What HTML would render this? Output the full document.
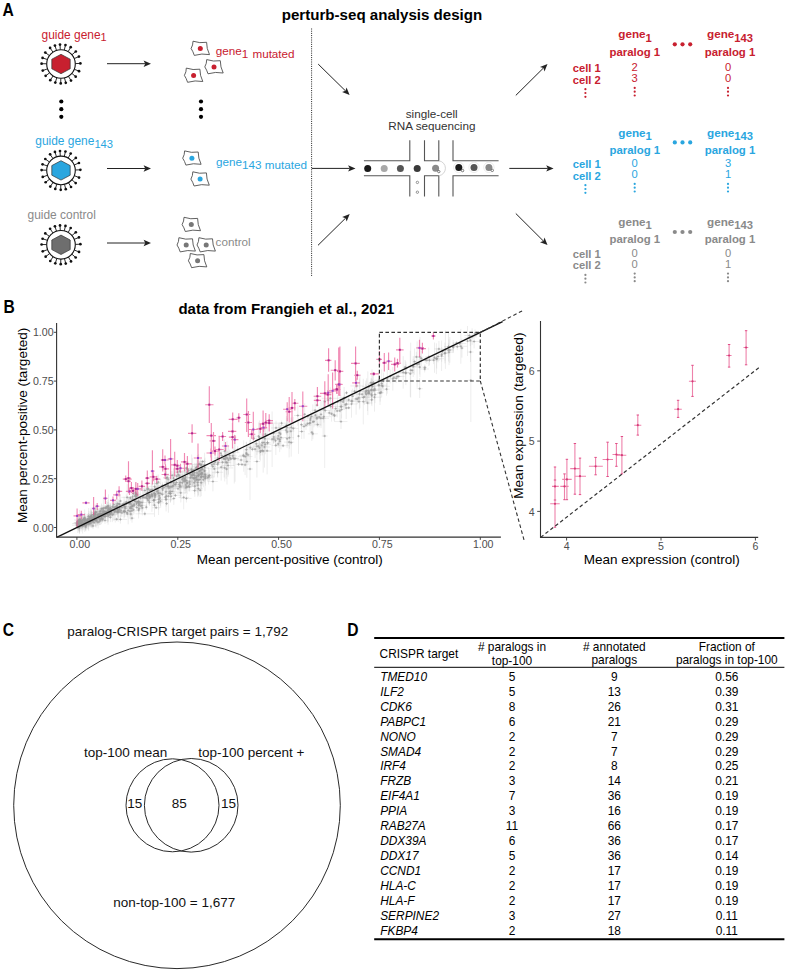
<!DOCTYPE html>
<html><head><meta charset="utf-8"><title>figure</title>
<style>
html,body{margin:0;padding:0;background:#fff;}
body{width:788px;height:972px;overflow:hidden;}
svg{display:block;font-family:"Liberation Sans",sans-serif;}
</style></head><body>
<svg width="788" height="972" viewBox="0 0 788 972">
<rect width="788" height="972" fill="#fff"/>
<text x="0" y="0" font-size="18.6" font-weight="bold" fill="#000" transform="translate(2.6,15.6) scale(0.84,1)">A</text>
<text x="0" y="0" font-size="18.6" font-weight="bold" fill="#000" transform="translate(3.6,312.8) scale(0.84,1)">B</text>
<text x="0" y="0" font-size="18.6" font-weight="bold" fill="#000" transform="translate(2.8,635.6) scale(0.84,1)">C</text>
<text x="0" y="0" font-size="18.6" font-weight="bold" fill="#000" transform="translate(347.3,635.6) scale(0.84,1)">D</text>
<text x="382" y="19.6" font-size="15.1" fill="#000" font-weight="bold" text-anchor="middle" font-style="normal" >perturb-seq analysis design</text>
<text x="41.5" y="38.7" font-size="11.95" fill="#c8202f">guide gene<tspan font-size="11" dy="2.5">1</tspan></text>
<g transform="translate(61,64)"><line x1="14.29" y1="-0.42" x2="19.39" y2="-0.58" stroke="#111" stroke-width="0.9"/><circle cx="19.39" cy="-0.58" r="1.35" fill="#111"/><line x1="13.22" y1="-5.45" x2="17.94" y2="-7.39" stroke="#111" stroke-width="0.9"/><circle cx="17.94" cy="-7.39" r="1.35" fill="#111"/><line x1="10.92" y1="-9.23" x2="14.82" y2="-12.52" stroke="#111" stroke-width="0.9"/><circle cx="14.82" cy="-12.52" r="1.35" fill="#111"/><line x1="7.15" y1="-12.38" x2="9.70" y2="-16.80" stroke="#111" stroke-width="0.9"/><circle cx="9.70" cy="-16.80" r="1.35" fill="#111"/><line x1="3.29" y1="-13.92" x2="4.46" y2="-18.88" stroke="#111" stroke-width="0.9"/><circle cx="4.46" cy="-18.88" r="1.35" fill="#111"/><line x1="-0.72" y1="-14.28" x2="-0.98" y2="-19.38" stroke="#111" stroke-width="0.9"/><circle cx="-0.98" cy="-19.38" r="1.35" fill="#111"/><line x1="-4.47" y1="-13.58" x2="-6.06" y2="-18.43" stroke="#111" stroke-width="0.9"/><circle cx="-6.06" cy="-18.43" r="1.35" fill="#111"/><line x1="-8.04" y1="-11.83" x2="-10.90" y2="-16.05" stroke="#111" stroke-width="0.9"/><circle cx="-10.90" cy="-16.05" r="1.35" fill="#111"/><line x1="-11.57" y1="-8.41" x2="-15.69" y2="-11.40" stroke="#111" stroke-width="0.9"/><circle cx="-15.69" cy="-11.40" r="1.35" fill="#111"/><line x1="-13.58" y1="-4.47" x2="-18.43" y2="-6.06" stroke="#111" stroke-width="0.9"/><circle cx="-18.43" cy="-6.06" r="1.35" fill="#111"/><line x1="-14.30" y1="-0.22" x2="-19.40" y2="-0.30" stroke="#111" stroke-width="0.9"/><circle cx="-19.40" cy="-0.30" r="1.35" fill="#111"/><line x1="-13.45" y1="4.84" x2="-18.25" y2="6.57" stroke="#111" stroke-width="0.9"/><circle cx="-18.25" cy="6.57" r="1.35" fill="#111"/><line x1="-11.31" y1="8.74" x2="-15.35" y2="11.86" stroke="#111" stroke-width="0.9"/><circle cx="-15.35" cy="11.86" r="1.35" fill="#111"/><line x1="-7.89" y1="11.92" x2="-10.71" y2="16.18" stroke="#111" stroke-width="0.9"/><circle cx="-10.71" cy="16.18" r="1.35" fill="#111"/><line x1="-4.20" y1="13.67" x2="-5.70" y2="18.54" stroke="#111" stroke-width="0.9"/><circle cx="-5.70" cy="18.54" r="1.35" fill="#111"/><line x1="-0.20" y1="14.30" x2="-0.27" y2="19.40" stroke="#111" stroke-width="0.9"/><circle cx="-0.27" cy="19.40" r="1.35" fill="#111"/><line x1="3.51" y1="13.86" x2="4.76" y2="18.81" stroke="#111" stroke-width="0.9"/><circle cx="4.76" cy="18.81" r="1.35" fill="#111"/><line x1="7.39" y1="12.24" x2="10.02" y2="16.61" stroke="#111" stroke-width="0.9"/><circle cx="10.02" cy="16.61" r="1.35" fill="#111"/><line x1="10.83" y1="9.34" x2="14.69" y2="12.68" stroke="#111" stroke-width="0.9"/><circle cx="14.69" cy="12.68" r="1.35" fill="#111"/><line x1="13.30" y1="5.26" x2="18.04" y2="7.14" stroke="#111" stroke-width="0.9"/><circle cx="18.04" cy="7.14" r="1.35" fill="#111"/><circle r="14.3" fill="#fff" stroke="#111" stroke-width="1.1"/><polygon points="0,-9.7 9.2,-4.8 9.2,4.8 0,9.7 -9.2,4.8 -9.2,-4.8" fill="#c8202f" stroke="#333" stroke-width="0.7"/></g>
<circle cx="61.3" cy="101.5" r="2.1" fill="#000"/>
<circle cx="61.3" cy="109.2" r="2.1" fill="#000"/>
<circle cx="61.3" cy="116.8" r="2.1" fill="#000"/>
<text x="35.3" y="145.2" font-size="11.95" fill="#2aa6df">guide gene<tspan font-size="11.2" dy="2.7">143</tspan></text>
<g transform="translate(61,170.4)"><line x1="14.29" y1="-0.42" x2="19.39" y2="-0.58" stroke="#111" stroke-width="0.9"/><circle cx="19.39" cy="-0.58" r="1.35" fill="#111"/><line x1="13.22" y1="-5.45" x2="17.94" y2="-7.39" stroke="#111" stroke-width="0.9"/><circle cx="17.94" cy="-7.39" r="1.35" fill="#111"/><line x1="10.92" y1="-9.23" x2="14.82" y2="-12.52" stroke="#111" stroke-width="0.9"/><circle cx="14.82" cy="-12.52" r="1.35" fill="#111"/><line x1="7.15" y1="-12.38" x2="9.70" y2="-16.80" stroke="#111" stroke-width="0.9"/><circle cx="9.70" cy="-16.80" r="1.35" fill="#111"/><line x1="3.29" y1="-13.92" x2="4.46" y2="-18.88" stroke="#111" stroke-width="0.9"/><circle cx="4.46" cy="-18.88" r="1.35" fill="#111"/><line x1="-0.72" y1="-14.28" x2="-0.98" y2="-19.38" stroke="#111" stroke-width="0.9"/><circle cx="-0.98" cy="-19.38" r="1.35" fill="#111"/><line x1="-4.47" y1="-13.58" x2="-6.06" y2="-18.43" stroke="#111" stroke-width="0.9"/><circle cx="-6.06" cy="-18.43" r="1.35" fill="#111"/><line x1="-8.04" y1="-11.83" x2="-10.90" y2="-16.05" stroke="#111" stroke-width="0.9"/><circle cx="-10.90" cy="-16.05" r="1.35" fill="#111"/><line x1="-11.57" y1="-8.41" x2="-15.69" y2="-11.40" stroke="#111" stroke-width="0.9"/><circle cx="-15.69" cy="-11.40" r="1.35" fill="#111"/><line x1="-13.58" y1="-4.47" x2="-18.43" y2="-6.06" stroke="#111" stroke-width="0.9"/><circle cx="-18.43" cy="-6.06" r="1.35" fill="#111"/><line x1="-14.30" y1="-0.22" x2="-19.40" y2="-0.30" stroke="#111" stroke-width="0.9"/><circle cx="-19.40" cy="-0.30" r="1.35" fill="#111"/><line x1="-13.45" y1="4.84" x2="-18.25" y2="6.57" stroke="#111" stroke-width="0.9"/><circle cx="-18.25" cy="6.57" r="1.35" fill="#111"/><line x1="-11.31" y1="8.74" x2="-15.35" y2="11.86" stroke="#111" stroke-width="0.9"/><circle cx="-15.35" cy="11.86" r="1.35" fill="#111"/><line x1="-7.89" y1="11.92" x2="-10.71" y2="16.18" stroke="#111" stroke-width="0.9"/><circle cx="-10.71" cy="16.18" r="1.35" fill="#111"/><line x1="-4.20" y1="13.67" x2="-5.70" y2="18.54" stroke="#111" stroke-width="0.9"/><circle cx="-5.70" cy="18.54" r="1.35" fill="#111"/><line x1="-0.20" y1="14.30" x2="-0.27" y2="19.40" stroke="#111" stroke-width="0.9"/><circle cx="-0.27" cy="19.40" r="1.35" fill="#111"/><line x1="3.51" y1="13.86" x2="4.76" y2="18.81" stroke="#111" stroke-width="0.9"/><circle cx="4.76" cy="18.81" r="1.35" fill="#111"/><line x1="7.39" y1="12.24" x2="10.02" y2="16.61" stroke="#111" stroke-width="0.9"/><circle cx="10.02" cy="16.61" r="1.35" fill="#111"/><line x1="10.83" y1="9.34" x2="14.69" y2="12.68" stroke="#111" stroke-width="0.9"/><circle cx="14.69" cy="12.68" r="1.35" fill="#111"/><line x1="13.30" y1="5.26" x2="18.04" y2="7.14" stroke="#111" stroke-width="0.9"/><circle cx="18.04" cy="7.14" r="1.35" fill="#111"/><circle r="14.3" fill="#fff" stroke="#111" stroke-width="1.1"/><polygon points="0,-9.7 9.2,-4.8 9.2,4.8 0,9.7 -9.2,4.8 -9.2,-4.8" fill="#2aa6df" stroke="#333" stroke-width="0.7"/></g>
<text x="27.5" y="219.4" font-size="11.95" fill="#8a8a8a" font-weight="normal" text-anchor="start" font-style="normal" >guide control</text>
<g transform="translate(61,244.8)"><line x1="14.29" y1="-0.42" x2="19.39" y2="-0.58" stroke="#111" stroke-width="0.9"/><circle cx="19.39" cy="-0.58" r="1.35" fill="#111"/><line x1="13.22" y1="-5.45" x2="17.94" y2="-7.39" stroke="#111" stroke-width="0.9"/><circle cx="17.94" cy="-7.39" r="1.35" fill="#111"/><line x1="10.92" y1="-9.23" x2="14.82" y2="-12.52" stroke="#111" stroke-width="0.9"/><circle cx="14.82" cy="-12.52" r="1.35" fill="#111"/><line x1="7.15" y1="-12.38" x2="9.70" y2="-16.80" stroke="#111" stroke-width="0.9"/><circle cx="9.70" cy="-16.80" r="1.35" fill="#111"/><line x1="3.29" y1="-13.92" x2="4.46" y2="-18.88" stroke="#111" stroke-width="0.9"/><circle cx="4.46" cy="-18.88" r="1.35" fill="#111"/><line x1="-0.72" y1="-14.28" x2="-0.98" y2="-19.38" stroke="#111" stroke-width="0.9"/><circle cx="-0.98" cy="-19.38" r="1.35" fill="#111"/><line x1="-4.47" y1="-13.58" x2="-6.06" y2="-18.43" stroke="#111" stroke-width="0.9"/><circle cx="-6.06" cy="-18.43" r="1.35" fill="#111"/><line x1="-8.04" y1="-11.83" x2="-10.90" y2="-16.05" stroke="#111" stroke-width="0.9"/><circle cx="-10.90" cy="-16.05" r="1.35" fill="#111"/><line x1="-11.57" y1="-8.41" x2="-15.69" y2="-11.40" stroke="#111" stroke-width="0.9"/><circle cx="-15.69" cy="-11.40" r="1.35" fill="#111"/><line x1="-13.58" y1="-4.47" x2="-18.43" y2="-6.06" stroke="#111" stroke-width="0.9"/><circle cx="-18.43" cy="-6.06" r="1.35" fill="#111"/><line x1="-14.30" y1="-0.22" x2="-19.40" y2="-0.30" stroke="#111" stroke-width="0.9"/><circle cx="-19.40" cy="-0.30" r="1.35" fill="#111"/><line x1="-13.45" y1="4.84" x2="-18.25" y2="6.57" stroke="#111" stroke-width="0.9"/><circle cx="-18.25" cy="6.57" r="1.35" fill="#111"/><line x1="-11.31" y1="8.74" x2="-15.35" y2="11.86" stroke="#111" stroke-width="0.9"/><circle cx="-15.35" cy="11.86" r="1.35" fill="#111"/><line x1="-7.89" y1="11.92" x2="-10.71" y2="16.18" stroke="#111" stroke-width="0.9"/><circle cx="-10.71" cy="16.18" r="1.35" fill="#111"/><line x1="-4.20" y1="13.67" x2="-5.70" y2="18.54" stroke="#111" stroke-width="0.9"/><circle cx="-5.70" cy="18.54" r="1.35" fill="#111"/><line x1="-0.20" y1="14.30" x2="-0.27" y2="19.40" stroke="#111" stroke-width="0.9"/><circle cx="-0.27" cy="19.40" r="1.35" fill="#111"/><line x1="3.51" y1="13.86" x2="4.76" y2="18.81" stroke="#111" stroke-width="0.9"/><circle cx="4.76" cy="18.81" r="1.35" fill="#111"/><line x1="7.39" y1="12.24" x2="10.02" y2="16.61" stroke="#111" stroke-width="0.9"/><circle cx="10.02" cy="16.61" r="1.35" fill="#111"/><line x1="10.83" y1="9.34" x2="14.69" y2="12.68" stroke="#111" stroke-width="0.9"/><circle cx="14.69" cy="12.68" r="1.35" fill="#111"/><line x1="13.30" y1="5.26" x2="18.04" y2="7.14" stroke="#111" stroke-width="0.9"/><circle cx="18.04" cy="7.14" r="1.35" fill="#111"/><circle r="14.3" fill="#fff" stroke="#111" stroke-width="1.1"/><polygon points="0,-9.7 9.2,-4.8 9.2,4.8 0,9.7 -9.2,4.8 -9.2,-4.8" fill="#6e6e6e" stroke="#333" stroke-width="0.7"/></g>
<line x1="107" y1="63.7" x2="145.23" y2="63.70" stroke="#222" stroke-width="1.0"/>
<path d="M151.00,63.70 L143.60,66.90 L145.23,63.70 L143.60,60.50 Z" fill="#222"/>
<line x1="107" y1="168.5" x2="145.23" y2="168.50" stroke="#222" stroke-width="1.0"/>
<path d="M151.00,168.50 L143.60,171.70 L145.23,168.50 L143.60,165.30 Z" fill="#222"/>
<line x1="107" y1="243" x2="145.23" y2="243.00" stroke="#222" stroke-width="1.0"/>
<path d="M151.00,243.00 L143.60,246.20 L145.23,243.00 L143.60,239.80 Z" fill="#222"/>
<g transform="translate(200.3,48.5)"><path d="M-7.3,-7.3 Q-0.5,-5.0 6.3,-6.2 Q6.2,0 9.2,6.1 Q1.5,4.6 -6,6.9 Q-7.2,3 -9.2,0 Q-7.2,-3.5 -7.3,-7.3 Z" fill="#fff" stroke="#444" stroke-width="0.85"/><circle r="2.5" fill="#c8202f"/></g>
<g transform="translate(214,66.9)"><path d="M-7.3,-7.3 Q-0.5,-5.0 6.3,-6.2 Q6.2,0 9.2,6.1 Q1.5,4.6 -6,6.9 Q-7.2,3 -9.2,0 Q-7.2,-3.5 -7.3,-7.3 Z" fill="#fff" stroke="#444" stroke-width="0.85"/><circle r="2.5" fill="#c8202f"/></g>
<g transform="translate(193.6,75.4)"><path d="M-7.3,-7.3 Q-0.5,-5.0 6.3,-6.2 Q6.2,0 9.2,6.1 Q1.5,4.6 -6,6.9 Q-7.2,3 -9.2,0 Q-7.2,-3.5 -7.3,-7.3 Z" fill="#fff" stroke="#444" stroke-width="0.85"/><circle r="2.5" fill="#c8202f"/></g>
<circle cx="201" cy="101.5" r="2.1" fill="#000"/>
<circle cx="201" cy="109.2" r="2.1" fill="#000"/>
<circle cx="201" cy="116.8" r="2.1" fill="#000"/>
<g transform="translate(191.9,158.2)"><path d="M-7.3,-7.3 Q-0.5,-5.0 6.3,-6.2 Q6.2,0 9.2,6.1 Q1.5,4.6 -6,6.9 Q-7.2,3 -9.2,0 Q-7.2,-3.5 -7.3,-7.3 Z" fill="#fff" stroke="#444" stroke-width="0.85"/><circle r="2.5" fill="#2aa6df"/></g>
<g transform="translate(200.1,179.1)"><path d="M-7.3,-7.3 Q-0.5,-5.0 6.3,-6.2 Q6.2,0 9.2,6.1 Q1.5,4.6 -6,6.9 Q-7.2,3 -9.2,0 Q-7.2,-3.5 -7.3,-7.3 Z" fill="#fff" stroke="#444" stroke-width="0.85"/><circle r="2.5" fill="#2aa6df"/></g>
<g transform="translate(191.3,224.6)"><path d="M-7.3,-7.3 Q-0.5,-5.0 6.3,-6.2 Q6.2,0 9.2,6.1 Q1.5,4.6 -6,6.9 Q-7.2,3 -9.2,0 Q-7.2,-3.5 -7.3,-7.3 Z" fill="#fff" stroke="#444" stroke-width="0.85"/><circle r="2.5" fill="#777"/></g>
<g transform="translate(186.2,245)"><path d="M-7.3,-7.3 Q-0.5,-5.0 6.3,-6.2 Q6.2,0 9.2,6.1 Q1.5,4.6 -6,6.9 Q-7.2,3 -9.2,0 Q-7.2,-3.5 -7.3,-7.3 Z" fill="#fff" stroke="#444" stroke-width="0.85"/><circle r="2.5" fill="#777"/></g>
<g transform="translate(206.2,245)"><path d="M-7.3,-7.3 Q-0.5,-5.0 6.3,-6.2 Q6.2,0 9.2,6.1 Q1.5,4.6 -6,6.9 Q-7.2,3 -9.2,0 Q-7.2,-3.5 -7.3,-7.3 Z" fill="#fff" stroke="#444" stroke-width="0.85"/><circle r="2.5" fill="#777"/></g>
<g transform="translate(197.6,260.8)"><path d="M-7.3,-7.3 Q-0.5,-5.0 6.3,-6.2 Q6.2,0 9.2,6.1 Q1.5,4.6 -6,6.9 Q-7.2,3 -9.2,0 Q-7.2,-3.5 -7.3,-7.3 Z" fill="#fff" stroke="#444" stroke-width="0.85"/><circle r="2.5" fill="#777"/></g>
<text x="215.8" y="54.5" font-size="11.7" fill="#c8202f">gene<tspan dy="3.3">1</tspan><tspan x="252.4">mutated</tspan></text>
<text x="216" y="166.4" font-size="11.7" fill="#2aa6df">gene<tspan dy="2.6">143 mutated</tspan></text>
<text x="215.6" y="245.5" font-size="11.7" fill="#8a8a8a" font-weight="normal" text-anchor="start" font-style="normal" >control</text>
<line x1="311.6" y1="28.5" x2="311.6" y2="276" stroke="#222" stroke-width="1" stroke-dasharray="1 1.2"/>
<line x1="318.2" y1="64.1" x2="345.48" y2="90.86" stroke="#222" stroke-width="1.0"/>
<path d="M349.60,94.90 L342.08,92.00 L345.48,90.86 L346.56,87.43 Z" fill="#222"/>
<line x1="311.8" y1="168.4" x2="349.73" y2="168.40" stroke="#222" stroke-width="1.0"/>
<path d="M355.50,168.40 L348.10,171.60 L349.73,168.40 L348.10,165.20 Z" fill="#222"/>
<line x1="318" y1="245.3" x2="345.59" y2="218.15" stroke="#222" stroke-width="1.0"/>
<path d="M349.70,214.10 L346.67,221.57 L345.59,218.15 L342.18,217.01 Z" fill="#222"/>
<line x1="515.8" y1="95.4" x2="543.40" y2="68.06" stroke="#222" stroke-width="1.0"/>
<path d="M547.50,64.00 L544.49,71.48 L543.40,68.06 L539.99,66.93 Z" fill="#222"/>
<line x1="509.3" y1="168.4" x2="547.83" y2="168.40" stroke="#222" stroke-width="1.0"/>
<path d="M553.60,168.40 L546.20,171.60 L547.83,168.40 L546.20,165.20 Z" fill="#222"/>
<line x1="515.8" y1="213.5" x2="543.41" y2="241.03" stroke="#222" stroke-width="1.0"/>
<path d="M547.50,245.10 L540.00,242.14 L543.41,241.03 L544.52,237.61 Z" fill="#222"/>
<text x="431.7" y="118.3" font-size="11.7" fill="#333" font-weight="normal" text-anchor="middle" font-style="normal" >single-cell</text>
<text x="431.9" y="130.1" font-size="11.7" fill="#333" font-weight="normal" text-anchor="middle" font-style="normal" >RNA sequencing</text>
<g fill="none" stroke="#555" stroke-width="1.1"><path d="M363.9,160.8 H409.8 V140.2"/><path d="M424.5,140.2 V160.8 H438.8 V140.2"/><path d="M453,140.2 V160.8 H498.6"/><path d="M363.9,175.7 H409.8 V196.6"/><path d="M424.5,196.6 V175.7 H438.8 V196.6"/><path d="M453,196.6 V175.7 H498.6"/></g>
<path d="M438.8,160.8 A7.5,7.5 0 0 1 438.8,175.7" fill="none" stroke="#c8c8c8" stroke-width="0.8"/>
<circle cx="367.7" cy="168.5" r="3.5" fill="#1a1a1a"/>
<circle cx="384.2" cy="168.5" r="3.5" fill="#a8a8a8"/>
<circle cx="400.4" cy="168.5" r="3.5" fill="#555"/>
<circle cx="417.2" cy="168.5" r="3.5" fill="#3a3a3a"/>
<circle cx="435.6" cy="168.3" r="3.5" fill="#8a8a8a"/>
<circle cx="458.8" cy="167.4" r="5.2" fill="none" stroke="#e4e4e4" stroke-width="0.7"/>
<circle cx="458.8" cy="167.4" r="3.5" fill="#1a1a1a"/>
<circle cx="474.0" cy="167.4" r="5.2" fill="none" stroke="#e4e4e4" stroke-width="0.7"/>
<circle cx="474.0" cy="167.4" r="3.5" fill="#555"/>
<circle cx="488.9" cy="167.4" r="5.2" fill="none" stroke="#e4e4e4" stroke-width="0.7"/>
<circle cx="488.9" cy="167.4" r="3.5" fill="#888"/>
<circle cx="438.8" cy="171.6" r="1.2" fill="#fff" stroke="#333" stroke-width="0.6"/>
<circle cx="462.6" cy="170.6" r="1.2" fill="#fff" stroke="#333" stroke-width="0.6"/>
<circle cx="492.3" cy="170.4" r="1.2" fill="#fff" stroke="#333" stroke-width="0.6"/>
<circle cx="417.4" cy="182.4" r="1.2" fill="#fff" stroke="#555" stroke-width="0.6"/>
<circle cx="417.4" cy="192.2" r="1.2" fill="#fff" stroke="#555" stroke-width="0.6"/>
<text x="618.3" y="38.1" font-size="11.7" font-weight="bold" fill="#c8202f">gene<tspan font-size="11.2" dy="3.4">1</tspan></text>
<text x="707" y="38.1" font-size="11.7" font-weight="bold" fill="#c8202f">gene<tspan font-size="11.2" dy="3.4">143</tspan></text>
<text x="634.8" y="55.5" font-size="11.4" fill="#c8202f" font-weight="bold" text-anchor="middle" font-style="normal" >paralog 1</text>
<text x="730" y="55.5" font-size="11.4" fill="#c8202f" font-weight="bold" text-anchor="middle" font-style="normal" >paralog 1</text>
<text x="572.8" y="72" font-size="11.2" fill="#c8202f" font-weight="bold" text-anchor="start" font-style="normal" >cell 1</text>
<text x="572.8" y="83.6" font-size="11.2" fill="#c8202f" font-weight="bold" text-anchor="start" font-style="normal" >cell 2</text>
<text x="634.7" y="70.7" font-size="11.2" fill="#c8202f" font-weight="normal" text-anchor="middle" font-style="normal" >2</text>
<text x="634.7" y="82.3" font-size="11.2" fill="#c8202f" font-weight="normal" text-anchor="middle" font-style="normal" >3</text>
<text x="728" y="70.7" font-size="11.2" fill="#c8202f" font-weight="normal" text-anchor="middle" font-style="normal" >0</text>
<text x="728" y="82.3" font-size="11.2" fill="#c8202f" font-weight="normal" text-anchor="middle" font-style="normal" >0</text>
<circle cx="585.4" cy="89.2" r="1.1" fill="#c8202f"/>
<circle cx="585.4" cy="93" r="1.1" fill="#c8202f"/>
<circle cx="585.4" cy="96.8" r="1.1" fill="#c8202f"/>
<circle cx="634.7" cy="87.9" r="1.1" fill="#c8202f"/>
<circle cx="634.7" cy="91.7" r="1.1" fill="#c8202f"/>
<circle cx="634.7" cy="95.5" r="1.1" fill="#c8202f"/>
<circle cx="728" cy="87.9" r="1.1" fill="#c8202f"/>
<circle cx="728" cy="91.7" r="1.1" fill="#c8202f"/>
<circle cx="728" cy="95.5" r="1.1" fill="#c8202f"/>
<circle cx="674.8" cy="44.3" r="2.1" fill="#c8202f"/>
<circle cx="682.5" cy="44.3" r="2.1" fill="#c8202f"/>
<circle cx="690.2" cy="44.3" r="2.1" fill="#c8202f"/>
<text x="618.3" y="136.5" font-size="11.7" font-weight="bold" fill="#2aa6df">gene<tspan font-size="11.2" dy="3.4">1</tspan></text>
<text x="707" y="136.5" font-size="11.7" font-weight="bold" fill="#2aa6df">gene<tspan font-size="11.2" dy="3.4">143</tspan></text>
<text x="634.8" y="153.6" font-size="11.4" fill="#2aa6df" font-weight="bold" text-anchor="middle" font-style="normal" >paralog 1</text>
<text x="730" y="153.6" font-size="11.4" fill="#2aa6df" font-weight="bold" text-anchor="middle" font-style="normal" >paralog 1</text>
<text x="572.8" y="168.2" font-size="11.2" fill="#2aa6df" font-weight="bold" text-anchor="start" font-style="normal" >cell 1</text>
<text x="572.8" y="179.6" font-size="11.2" fill="#2aa6df" font-weight="bold" text-anchor="start" font-style="normal" >cell 2</text>
<text x="634.7" y="166.9" font-size="11.2" fill="#2aa6df" font-weight="normal" text-anchor="middle" font-style="normal" >0</text>
<text x="634.7" y="178.3" font-size="11.2" fill="#2aa6df" font-weight="normal" text-anchor="middle" font-style="normal" >0</text>
<text x="728" y="166.9" font-size="11.2" fill="#2aa6df" font-weight="normal" text-anchor="middle" font-style="normal" >3</text>
<text x="728" y="178.3" font-size="11.2" fill="#2aa6df" font-weight="normal" text-anchor="middle" font-style="normal" >1</text>
<circle cx="585.4" cy="185.2" r="1.1" fill="#2aa6df"/>
<circle cx="585.4" cy="189" r="1.1" fill="#2aa6df"/>
<circle cx="585.4" cy="192.8" r="1.1" fill="#2aa6df"/>
<circle cx="634.7" cy="183.9" r="1.1" fill="#2aa6df"/>
<circle cx="634.7" cy="187.7" r="1.1" fill="#2aa6df"/>
<circle cx="634.7" cy="191.5" r="1.1" fill="#2aa6df"/>
<circle cx="728" cy="183.9" r="1.1" fill="#2aa6df"/>
<circle cx="728" cy="187.7" r="1.1" fill="#2aa6df"/>
<circle cx="728" cy="191.5" r="1.1" fill="#2aa6df"/>
<circle cx="674.8" cy="142.4" r="2.1" fill="#2aa6df"/>
<circle cx="682.5" cy="142.4" r="2.1" fill="#2aa6df"/>
<circle cx="690.2" cy="142.4" r="2.1" fill="#2aa6df"/>
<text x="618.3" y="225.9" font-size="11.7" font-weight="bold" fill="#8a8a8a">gene<tspan font-size="11.2" dy="3.4">1</tspan></text>
<text x="707" y="225.9" font-size="11.7" font-weight="bold" fill="#8a8a8a">gene<tspan font-size="11.2" dy="3.4">143</tspan></text>
<text x="634.8" y="243" font-size="11.4" fill="#8a8a8a" font-weight="bold" text-anchor="middle" font-style="normal" >paralog 1</text>
<text x="730" y="243" font-size="11.4" fill="#8a8a8a" font-weight="bold" text-anchor="middle" font-style="normal" >paralog 1</text>
<text x="572.8" y="258.2" font-size="11.2" fill="#8a8a8a" font-weight="bold" text-anchor="start" font-style="normal" >cell 1</text>
<text x="572.8" y="269.3" font-size="11.2" fill="#8a8a8a" font-weight="bold" text-anchor="start" font-style="normal" >cell 2</text>
<text x="634.7" y="256.9" font-size="11.2" fill="#8a8a8a" font-weight="normal" text-anchor="middle" font-style="normal" >0</text>
<text x="634.7" y="268" font-size="11.2" fill="#8a8a8a" font-weight="normal" text-anchor="middle" font-style="normal" >0</text>
<text x="728" y="256.9" font-size="11.2" fill="#8a8a8a" font-weight="normal" text-anchor="middle" font-style="normal" >0</text>
<text x="728" y="268" font-size="11.2" fill="#8a8a8a" font-weight="normal" text-anchor="middle" font-style="normal" >1</text>
<circle cx="585.4" cy="274.9" r="1.1" fill="#8a8a8a"/>
<circle cx="585.4" cy="278.7" r="1.1" fill="#8a8a8a"/>
<circle cx="585.4" cy="282.5" r="1.1" fill="#8a8a8a"/>
<circle cx="634.7" cy="273.6" r="1.1" fill="#8a8a8a"/>
<circle cx="634.7" cy="277.4" r="1.1" fill="#8a8a8a"/>
<circle cx="634.7" cy="281.2" r="1.1" fill="#8a8a8a"/>
<circle cx="728" cy="273.6" r="1.1" fill="#8a8a8a"/>
<circle cx="728" cy="277.4" r="1.1" fill="#8a8a8a"/>
<circle cx="728" cy="281.2" r="1.1" fill="#8a8a8a"/>
<circle cx="674.8" cy="232" r="2.1" fill="#8a8a8a"/>
<circle cx="682.5" cy="232" r="2.1" fill="#8a8a8a"/>
<circle cx="690.2" cy="232" r="2.1" fill="#8a8a8a"/>
<text x="286.4" y="314.4" font-size="15.0" fill="#000" font-weight="bold" text-anchor="middle" font-style="normal" >data from Frangieh et al., 2021</text>
<g>
<path d="M106.6,511.3V516.8M103.5,514.1H109.8M80.3,522.8V525.9M78.6,524.3H82.0M79.4,523.7V532.0M77.4,527.8H81.4M199.9,463.0V478.9M197.4,470.9H202.4M372.4,379.4V393.5M370.3,386.4H374.5M184.5,473.5V484.0M179.8,478.7H189.1M132.6,504.1V508.1M130.0,506.1H135.2M273.8,431.0V443.0M268.4,437.0H279.2M124.1,496.7V513.5M123.0,505.1H125.2M191.4,467.1V471.5M187.8,469.3H194.9M380.2,384.3V401.6M376.8,392.9H383.6M92.2,514.2V527.7M87.2,520.9H97.1M170.3,485.3V501.9M167.2,493.6H173.5M187.3,468.8V477.0M185.7,472.9H188.8M312.8,404.3V439.2M311.5,421.8H314.1M134.1,501.8V506.7M131.6,504.2H136.6M79.2,517.2V524.0M77.2,520.6H81.3M190.9,466.6V482.9M188.3,474.7H193.6M192.3,457.9V486.2M190.8,472.1H193.9M192.4,465.4V476.2M191.0,470.8H193.9M78.2,517.5V528.5M77.0,523.0H79.5M89.5,518.9V525.1M83.7,522.0H95.3M289.4,426.7V448.7M284.8,437.7H294.1M99.6,512.6V525.2M95.7,518.9H103.4M135.7,490.8V502.5M133.8,496.7H137.6M79.2,519.2V527.0M78.2,523.1H80.2M77.0,520.3V526.7M72.0,523.5H82.0M106.4,510.6V513.7M103.3,512.2H109.5M103.4,496.6V519.7M99.8,508.2H106.9M80.8,518.6V525.0M79.5,521.8H82.2M107.1,504.2V510.0M104.3,507.1H109.8M93.0,522.6V529.1M89.8,525.9H96.2M131.9,505.1V516.5M127.1,510.8H136.7M180.1,480.0V491.2M175.8,485.6H184.4M341.0,414.2V429.0M334.6,421.6H347.4M149.6,495.4V500.5M146.4,498.0H152.7M170.0,478.9V495.0M168.2,487.0H171.9M475.0,329.5V337.1M473.5,333.3H476.4M88.3,513.2V525.3M84.0,519.3H92.6M165.4,494.9V499.4M163.2,497.2H167.5M359.4,378.5V409.6M356.2,394.1H362.6M256.9,437.5V454.9M246.8,446.2H267.1M136.0,490.1V498.5M134.3,494.3H137.6M84.3,513.6V523.2M80.9,518.4H87.6M438.9,341.0V356.8M434.3,348.9H443.6M119.6,502.9V512.4M116.2,507.6H123.0M414.6,348.5V374.7M412.9,361.6H416.3M117.1,501.9V510.8M115.2,506.3H119.1M104.3,507.8V514.8M100.4,511.3H108.2M413.2,356.3V377.0M410.1,366.7H416.3M150.2,488.0V492.4M149.1,490.2H151.3M228.5,445.4V474.6M226.6,460.0H230.4M127.1,510.4V514.8M125.9,512.6H128.4M118.1,508.5V514.1M113.0,511.3H123.2M154.7,479.8V508.0M150.1,493.9H159.3M148.9,490.8V498.1M145.1,494.4H152.7M144.9,486.0V494.9M139.4,490.5H150.5M154.5,493.5V516.9M151.6,505.2H157.3M89.5,514.0V521.6M87.8,517.8H91.2M90.6,520.3V526.5M88.8,523.4H92.3M315.1,394.9V425.8M311.6,410.3H318.6M410.7,342.7V397.6M408.9,370.2H412.6M226.6,463.4V474.7M224.4,469.1H228.8M173.5,473.2V492.2M172.0,482.7H174.9M91.1,515.2V526.7M89.3,521.0H92.9M453.2,342.1V353.1M451.9,347.6H454.5M93.6,513.3V521.9M91.1,517.6H96.2M456.5,341.2V344.8M453.5,343.0H459.6M429.5,355.3V365.4M423.4,360.3H435.6M97.5,508.5V521.2M95.3,514.8H99.7M212.8,462.8V470.3M209.4,466.6H216.2M153.7,494.9V505.9M151.7,500.4H155.7M88.6,517.4V523.5M86.8,520.5H90.4M81.1,518.2V524.8M76.8,521.5H85.3M147.5,489.5V501.6M144.5,495.5H150.5M78.3,519.5V530.2M76.4,524.9H80.1M378.9,375.0V385.7M374.4,380.3H383.4M186.6,480.2V493.3M182.3,486.8H191.0M186.4,494.3V502.5M181.1,498.4H191.6M129.7,500.2V504.9M124.9,502.6H134.4M108.1,501.8V518.3M104.9,510.1H111.3M316.9,411.0V426.5M314.9,418.7H319.0M94.1,517.4V522.3M87.5,519.9H100.8M117.6,507.0V517.4M116.2,512.2H119.0M89.1,518.0V526.3M86.7,522.1H91.5M89.6,518.2V521.4M87.7,519.8H91.5M93.9,513.6V517.5M92.6,515.6H95.2M176.8,469.0V483.2M171.8,476.1H181.8M267.1,427.3V474.4M262.6,450.8H271.5M94.1,508.8V519.6M89.2,514.2H99.1M174.9,479.6V489.1M170.4,484.4H179.3M340.7,399.9V413.4M335.5,406.6H346.0M441.7,347.1V361.8M438.8,354.4H444.6M101.3,510.7V518.8M97.8,514.8H104.7M162.3,486.7V502.2M156.2,494.5H168.3M287.2,418.1V445.7M285.0,431.9H289.4M77.9,522.8V530.0M76.2,526.4H79.6M234.3,434.4V483.5M229.9,458.9H238.8M169.0,485.7V490.5M164.0,488.1H174.0M98.1,511.1V518.6M97.0,514.8H99.1M90.5,517.6V525.7M88.8,521.7H92.1M320.8,410.4V426.1M315.8,418.3H325.8M102.9,511.4V518.5M100.9,514.9H104.8M469.3,332.9V338.0M464.3,335.5H474.3M120.4,515.2V523.6M113.7,519.4H127.1M84.7,513.0V532.0M82.9,522.5H86.5M85.1,518.9V529.7M82.0,524.3H88.2M194.0,477.0V480.3M189.3,478.7H198.7M124.3,502.7V511.1M121.6,506.9H127.1M187.3,467.2V470.4M185.5,468.8H189.1M445.0,346.1V360.7M442.3,353.4H447.7M135.0,494.2V497.3M132.2,495.8H137.7M94.6,508.3V522.3M91.2,515.3H98.1M198.5,467.9V482.3M195.4,475.1H201.5M200.9,462.8V485.7M195.9,474.3H205.8M195.9,463.3V472.9M194.7,468.1H197.1M277.9,437.0V440.4M271.8,438.7H284.1M94.7,513.9V518.6M91.8,516.2H97.7M175.5,478.0V490.8M174.1,484.4H176.8M124.2,508.6V514.8M122.5,511.7H125.9M85.2,515.6V522.9M83.4,519.2H87.1M416.4,351.8V362.0M413.5,356.9H419.2M80.8,521.0V524.3M78.2,522.7H83.3M192.8,468.9V486.4M188.5,477.7H197.1M128.6,497.2V507.4M126.8,502.3H130.3M381.1,390.4V394.0M378.4,392.2H383.7M118.1,506.2V517.0M115.5,511.6H120.6M459.8,340.8V346.4M453.2,343.6H466.3M418.9,362.2V365.5M417.9,363.9H419.9M197.4,455.2V483.4M194.0,469.3H200.8M79.0,518.1V527.3M76.0,522.7H82.0M312.8,431.4V436.2M307.9,433.8H317.8M93.6,513.6V521.7M89.9,517.6H97.4M104.0,515.0V518.1M99.7,516.5H108.2M217.8,452.5V463.7M213.9,458.1H221.7M159.3,489.3V502.2M158.2,495.8H160.5M201.2,469.3V496.2M197.8,482.7H204.5M201.4,469.7V476.2M197.7,472.9H205.0M101.1,511.0V519.2M99.2,515.1H102.9M362.1,390.6V398.1M359.2,394.3H365.1M233.1,446.8V457.8M226.5,452.3H239.6M113.0,505.4V509.7M111.3,507.5H114.7M178.0,482.7V494.6M169.9,488.7H186.1M110.9,505.3V516.8M107.0,511.1H114.8M110.8,510.6V517.2M108.5,513.9H113.1M78.3,519.9V525.1M74.0,522.5H82.7M375.0,386.1V403.1M372.6,394.6H377.3M101.5,510.1V524.2M99.8,517.1H103.1M132.7,501.7V509.9M129.7,505.8H135.8M200.8,459.0V488.8M193.9,473.9H207.6M95.5,509.9V516.3M92.4,513.1H98.6M92.3,514.6V521.7M90.6,518.2H94.0M193.9,467.3V473.0M190.9,470.1H197.0M102.4,511.8V515.4M99.9,513.6H104.9M357.4,394.0V404.3M354.0,399.1H360.8M434.5,342.5V372.8M432.4,357.7H436.7M88.7,510.8V529.0M84.4,519.9H93.1M105.7,507.1V519.2M99.3,513.1H112.2M118.4,505.9V518.3M116.2,512.1H120.6M387.3,364.1V393.7M383.5,378.9H391.0M127.3,510.5V517.3M124.2,513.9H130.5M211.9,451.2V478.5M210.9,464.8H213.0M82.8,522.2V527.1M77.6,524.6H88.0M396.2,373.4V383.1M394.4,378.3H398.0M172.0,488.5V494.5M167.5,491.5H176.6M330.7,397.7V415.2M325.3,406.5H336.0M84.2,519.4V528.1M82.4,523.8H86.0M233.3,450.4V466.0M228.1,458.2H238.5M127.2,484.1V510.6M121.4,497.4H132.9M116.1,500.3V515.1M114.0,507.7H118.2M184.8,471.9V491.0M178.1,481.4H191.6M79.1,518.6V527.7M73.1,523.1H85.1M197.8,473.3V497.1M194.5,485.2H201.2M365.8,380.7V401.9M361.8,391.3H369.8M114.5,508.8V515.3M112.9,512.1H116.0M165.2,483.6V487.1M163.8,485.3H166.7M168.4,480.0V492.8M165.9,486.4H170.9M96.4,507.4V516.4M94.1,511.9H98.7M163.8,484.0V490.9M161.8,487.5H165.8M125.0,506.3V517.0M123.4,511.6H126.6M130.8,507.7V520.5M127.4,514.1H134.2M77.2,521.7V528.7M71.9,525.2H82.5M185.0,467.5V493.8M180.4,480.6H189.5M108.0,506.1V510.0M103.8,508.1H112.2M104.3,512.3V520.6M102.0,516.5H106.5M150.0,493.1V500.8M148.4,497.0H151.6M183.2,475.2V480.0M177.0,477.6H189.3M419.9,337.1V377.2M416.2,357.1H423.6M194.8,475.7V496.8M190.8,486.2H198.8M136.3,487.4V501.2M131.3,494.3H141.3M80.1,517.0V526.1M78.9,521.5H81.4M77.4,519.3V523.7M76.0,521.5H78.7M177.6,467.7V476.6M173.6,472.2H181.6M162.4,481.9V489.2M158.6,485.5H166.1M138.8,499.1V511.6M137.3,505.4H140.3M146.3,495.7V500.4M140.7,498.0H151.8M279.3,422.5V443.1M276.8,432.8H281.7M99.7,508.9V520.4M97.8,514.6H101.7M81.3,522.0V526.1M76.8,524.0H85.8M95.4,518.5V521.7M93.2,520.1H97.5M374.7,385.7V392.2M367.2,389.0H382.3M95.6,508.3V526.9M93.2,517.6H97.9M85.8,522.6V531.3M84.0,527.0H87.6M226.1,451.9V462.8M224.3,457.3H227.9M196.6,476.6V482.5M193.2,479.5H200.0M126.3,501.1V505.4M122.2,503.3H130.4M356.9,377.0V394.8M350.3,385.9H363.4M99.4,510.2V523.0M94.9,516.6H103.9M156.9,488.3V495.0M151.9,491.6H161.8M182.3,479.4V486.2M172.1,482.8H192.6M131.1,497.4V510.9M128.3,504.2H134.0M100.8,510.1V518.4M95.6,514.2H105.9M166.6,501.9V505.2M165.5,503.6H167.8M90.1,511.3V521.8M88.0,516.6H92.2M381.7,369.5V397.3M380.5,383.4H383.0M101.4,511.8V518.2M99.2,515.0H103.7M157.9,481.5V500.1M155.4,490.8H160.4M393.9,374.0V381.6M391.6,377.8H396.2M190.9,468.7V485.5M189.9,477.1H192.0M154.8,487.4V500.1M150.6,493.8H159.0M198.6,468.7V482.5M196.8,475.6H200.4M136.5,502.2V505.5M134.6,503.8H138.4M200.1,483.2V497.1M197.8,490.2H202.5M148.3,486.7V502.3M143.5,494.5H153.2M81.9,513.3V529.1M79.6,521.2H84.2M324.9,399.4V403.7M323.8,401.6H326.0M278.2,441.8V446.1M275.6,443.9H280.9M93.5,513.8V527.1M91.1,520.4H96.0M245.1,454.7V475.1M242.9,464.9H247.4M290.8,417.6V445.1M287.3,431.3H294.3M369.0,389.9V393.8M365.4,391.9H372.6M365.6,383.7V402.0M362.3,392.9H368.9M195.2,471.9V489.8M190.6,480.9H199.7M371.7,395.2V404.5M368.4,399.8H375.0M173.8,492.0V504.9M171.7,498.5H175.9M81.6,520.8V526.8M80.0,523.8H83.2M106.0,505.6V511.1M103.9,508.4H108.0M100.8,508.5V519.4M97.3,514.0H104.4M209.6,469.9V480.7M206.1,475.3H213.1M374.5,382.9V411.6M367.6,397.2H381.4M379.0,379.6V390.7M371.2,385.2H386.8M310.5,411.2V425.2M305.0,418.2H316.0M100.7,505.7V516.1M99.1,510.9H102.2M91.4,515.1V518.3M88.7,516.7H94.2M263.2,429.7V472.7M255.2,451.2H271.3M92.6,513.8V523.3M90.4,518.6H94.8M259.5,436.2V459.7M257.0,447.9H262.0M108.3,507.9V515.4M105.8,511.7H110.9M371.5,378.2V401.2M370.4,389.7H372.6M182.2,470.7V487.9M177.9,479.3H186.5M199.4,461.2V466.4M196.2,463.8H202.6M286.4,416.1V434.6M279.8,425.3H292.9M337.6,394.9V409.1M334.2,402.0H341.0M135.2,498.6V504.3M133.7,501.4H136.6M79.2,516.4V532.7M76.3,524.6H82.2M392.8,367.0V390.6M390.7,378.8H394.9M331.6,406.0V421.6M329.6,413.8H333.5M315.4,413.4V417.0M312.2,415.2H318.6M179.5,483.6V489.8M172.4,486.7H186.6M111.4,506.0V513.2M107.0,509.6H115.9M225.4,452.6V465.8M222.4,459.2H228.3M94.3,515.1V522.2M89.8,518.6H98.8M81.0,520.6V524.2M75.6,522.4H86.3M328.1,393.4V406.9M326.1,400.1H330.0M101.5,509.0V519.3M98.3,514.2H104.7M321.0,400.7V428.1M320.0,414.4H322.0M105.6,512.5V520.4M104.3,516.5H106.9M156.1,506.1V509.2M152.2,507.7H160.1M173.5,469.1V487.1M170.7,478.1H176.3M311.8,423.7V441.0M309.9,432.3H313.7M100.5,515.5V525.0M98.7,520.2H102.2M138.6,501.7V518.4M136.5,510.1H140.6M168.0,481.9V488.3M164.2,485.1H171.8M146.3,504.2V510.1M145.2,507.2H147.4M107.8,500.1V522.1M105.8,511.1H109.9M152.3,493.3V499.1M148.1,496.2H156.5M186.0,485.2V490.1M183.0,487.7H189.0M267.6,441.3V445.0M264.8,443.1H270.4M406.1,364.4V372.2M404.6,368.3H407.5M138.2,498.6V504.6M134.9,501.6H141.5M115.3,499.0V522.5M112.6,510.8H117.9M267.5,439.9V445.1M264.7,442.5H270.3M341.6,400.9V418.4M338.2,409.6H345.0M405.8,361.6V385.1M399.7,373.3H411.9M281.0,425.6V449.4M275.2,437.5H286.8M188.5,468.2V472.6M184.5,470.4H192.5M138.9,499.9V503.5M137.5,501.7H140.2M124.3,504.6V517.4M123.0,511.0H125.6M166.1,487.0V511.4M164.5,499.2H167.7M358.7,395.4V400.4M355.8,397.9H361.6M310.3,418.4V421.6M304.3,420.0H316.3M100.9,513.4V519.9M98.6,516.6H103.2M259.4,420.5V454.0M257.8,437.3H261.0M433.6,356.1V364.1M427.4,360.1H439.9M453.2,339.9V352.5M450.6,346.2H455.7M275.8,435.8V455.0M271.7,445.4H279.8M116.4,501.2V512.0M112.9,506.6H119.9M83.4,523.5V526.9M78.4,525.2H88.4M84.8,515.7V524.9M81.0,520.3H88.7M264.5,426.4V467.6M259.0,447.0H269.9M91.9,515.5V528.0M90.3,521.7H93.4M363.3,378.8V424.4M358.1,401.6H368.4M371.0,386.5V394.3M365.1,390.4H377.0M189.8,476.9V491.6M183.5,484.2H196.1M81.3,522.7V528.3M76.7,525.5H85.9M185.8,476.9V493.1M182.8,485.0H188.9M148.2,486.2V491.7M146.6,488.9H149.9M124.0,504.3V518.5M121.2,511.4H126.8M205.0,457.7V491.2M203.0,474.4H207.0M89.7,515.6V524.3M84.3,519.9H95.2M166.0,471.8V500.8M161.9,486.3H170.0M170.5,484.2V502.8M167.0,493.5H174.0M85.8,522.1V525.4M83.8,523.8H87.8M104.0,506.4V519.2M101.3,512.8H106.7M185.2,469.1V489.0M184.1,479.1H186.4M126.3,494.5V509.7M123.8,502.1H128.8M373.3,387.7V392.7M367.5,390.2H379.1M196.5,464.7V470.0M195.3,467.4H197.6M158.3,474.5V490.0M156.1,482.2H160.4M113.8,507.8V511.7M112.5,509.7H115.2M80.2,522.0V527.6M79.0,524.8H81.4M220.8,450.4V456.3M219.5,453.3H222.1M103.1,505.4V512.5M101.1,508.9H105.1M212.9,471.6V491.3M208.1,481.5H217.7M198.1,455.7V495.9M197.0,475.8H199.2M79.3,520.4V532.7M76.8,526.6H81.8M227.4,450.7V465.9M223.3,458.3H231.5M91.1,510.1V522.9M88.9,516.5H93.3M81.4,521.1V529.6M78.1,525.4H84.7M134.1,487.4V513.8M132.4,500.6H135.8M96.1,513.5V527.8M94.5,520.6H97.7M256.9,445.4V477.6M253.5,461.5H260.2M139.1,503.4V514.0M136.5,508.7H141.8M304.7,403.3V425.3M303.7,414.3H305.8M138.4,492.1V511.3M134.9,501.7H141.9M372.0,369.4V399.7M367.8,384.6H376.1M188.6,481.0V491.3M183.2,486.2H194.0M405.1,360.1V374.3M403.4,367.2H406.8M363.3,394.9V400.2M357.4,397.5H369.2M280.5,426.2V441.9M279.5,434.0H281.6M99.3,517.5V525.0M94.7,521.3H103.8M156.8,474.7V492.2M152.7,483.5H161.0M111.1,509.8V514.7M108.7,512.3H113.5M262.3,445.5V455.4M259.3,450.5H265.4M77.9,521.1V524.2M74.7,522.6H81.1M225.6,448.3V463.6M222.8,455.9H228.5M91.4,511.6V519.1M87.6,515.3H95.2M180.2,466.9V498.3M175.9,482.6H184.4M343.3,396.8V402.8M339.9,399.8H346.6M79.4,521.4V525.4M74.6,523.4H84.3M199.8,475.7V483.2M198.2,479.5H201.4M135.5,482.4V502.8M134.3,492.6H136.6M200.9,459.9V469.9M197.1,464.9H204.7M107.7,502.0V510.4M105.0,506.2H110.4M194.6,462.9V488.2M190.2,475.6H199.0M82.6,519.2V533.5M76.9,526.3H88.4M93.5,507.9V520.9M91.3,514.4H95.7M158.2,488.8V497.3M156.2,493.0H160.2M88.0,520.2V523.7M86.9,522.0H89.1M200.2,467.9V472.9M197.1,470.4H203.2M87.1,513.9V529.3M84.4,521.6H89.8M382.6,383.5V389.0M375.3,386.3H389.8M141.9,498.7V512.2M136.8,505.4H147.1M162.5,483.7V493.3M157.3,488.5H167.7M105.9,507.8V515.2M103.6,511.5H108.2M107.2,504.8V523.1M105.5,514.0H108.9M126.2,500.4V507.2M124.5,503.8H127.9M373.5,373.0V391.7M371.5,382.4H375.5M119.2,501.1V506.6M116.0,503.9H122.4M476.1,331.1V337.6M473.2,334.4H478.9M110.2,507.5V517.4M108.8,512.5H111.6M258.4,444.4V448.1M257.3,446.3H259.6M291.4,417.4V437.4M288.2,427.4H294.5M105.2,510.6V519.5M100.6,515.0H109.7M232.8,452.7V459.1M228.6,455.9H237.1M113.1,507.4V520.6M109.7,514.0H116.5M301.4,420.1V429.1M300.0,424.6H302.8M207.7,473.7V481.8M204.0,477.7H211.5M351.4,399.6V402.7M346.9,401.1H355.8M245.2,448.8V464.5M237.9,456.6H252.4M108.1,510.7V521.7M104.3,516.2H111.9M149.3,489.1V504.8M145.4,497.0H153.3M351.5,390.2V417.7M346.1,404.0H357.0M95.2,504.5V520.4M91.5,512.4H98.8M151.9,479.8V511.8M149.9,495.8H153.8M110.3,506.2V513.0M109.1,509.6H111.6M80.5,520.6V527.5M76.8,524.1H84.3M150.2,493.6V498.1M148.0,495.9H152.4M325.2,407.8V413.2M320.0,410.5H330.4M103.3,511.0V517.5M101.6,514.2H105.0M189.7,465.0V482.4M188.7,473.7H190.8M364.3,388.4V405.1M360.9,396.8H367.8M291.2,428.7V456.6M289.7,442.6H292.8M128.2,496.5V524.3M124.4,510.4H132.0M359.9,374.5V408.2M354.8,391.3H365.0M469.1,336.4V339.5M464.3,337.9H473.9M131.6,504.7V508.4M127.9,506.5H135.4M84.7,509.5V525.8M82.9,517.7H86.5M183.7,485.5V509.3M178.5,497.4H188.9M84.9,520.6V525.9M82.4,523.3H87.4M197.1,474.3V484.8M192.8,479.6H201.5M398.7,370.7V382.1M392.8,376.4H404.6M110.4,512.6V522.1M109.2,517.4H111.5M151.5,490.5V498.1M148.9,494.3H154.0M122.7,503.1V506.3M120.7,504.7H124.8M187.2,479.8V494.2M185.0,487.0H189.5M279.7,426.6V452.2M277.3,439.4H282.2M125.3,501.7V511.4M121.9,506.6H128.8M90.4,514.0V525.3M86.0,519.6H94.8M154.1,498.3V501.8M150.8,500.1H157.4M226.1,445.6V478.8M222.2,462.2H229.9M96.3,515.2V523.4M95.2,519.3H97.4M201.2,475.3V478.9M198.4,477.1H204.1M130.2,500.9V515.8M126.5,508.4H134.0M175.4,493.4V497.3M169.4,495.4H181.5M180.8,471.2V502.5M175.6,486.9H186.1M100.3,508.5V521.6M93.6,515.0H107.0M137.9,498.4V505.8M131.7,502.1H144.1M133.4,506.7V512.9M132.0,509.8H134.8M154.0,494.9V505.4M151.4,500.2H156.6M348.7,406.3V409.4M346.5,407.8H350.9M89.5,519.3V526.5M84.4,522.9H94.5M187.7,461.3V482.5M180.0,471.9H195.3M108.6,506.1V511.6M107.6,508.8H109.7M147.2,483.0V495.0M136.8,489.0H157.5M149.5,498.6V506.0M146.0,502.3H153.0M158.6,489.1V515.0M156.0,502.1H161.1M94.5,515.6V523.8M90.9,519.7H98.2M369.1,382.9V404.4M367.8,393.7H370.4M205.5,467.3V485.6M203.7,476.4H207.3M203.5,471.0V482.2M199.0,476.6H207.9M96.4,513.3V525.9M89.3,519.6H103.4M413.2,358.7V373.5M407.9,366.1H418.4M78.3,517.9V528.7M75.8,523.3H80.8M436.7,348.3V368.4M434.7,358.4H438.6M252.4,447.0V451.5M249.0,449.3H255.7M167.2,473.7V481.4M163.0,477.5H171.4M120.1,506.0V517.9M115.9,512.0H124.3M103.2,509.4V519.7M99.0,514.5H107.4M84.9,513.3V528.4M83.3,520.9H86.4M183.4,479.0V482.8M182.0,480.9H184.7M260.7,446.1V455.7M257.2,450.9H264.2M94.4,516.0V523.6M91.5,519.8H97.4M95.4,509.8V518.9M92.1,514.4H98.7M118.2,499.1V521.8M115.7,510.4H120.7M253.8,427.4V449.2M251.2,438.3H256.4M421.3,350.8V366.0M419.5,358.4H423.2M173.1,478.7V492.4M169.6,485.5H176.5M241.1,454.8V465.3M237.1,460.0H245.1M90.1,516.9V523.0M88.7,519.9H91.5M134.1,502.8V507.9M129.7,505.4H138.5M117.7,500.8V506.4M114.8,503.6H120.5M93.1,515.3V523.9M90.2,519.6H96.0M97.9,508.5V525.5M95.2,517.0H100.5M340.8,395.0V406.7M337.0,400.9H344.6M264.8,435.6V441.6M259.8,438.6H269.9M142.0,495.5V509.7M137.9,502.6H146.0M194.2,477.7V487.8M193.1,482.7H195.3M99.0,511.9V517.7M95.2,514.8H102.7M179.3,475.7V493.1M175.4,484.4H183.2M125.4,505.6V511.1M122.2,508.3H128.5M166.5,470.6V485.8M163.2,478.2H169.9M147.5,495.2V502.0M145.8,498.6H149.3M87.6,516.8V525.2M82.8,521.0H92.4M354.6,386.8V395.7M352.1,391.3H357.1M92.5,514.0V526.5M90.1,520.3H94.8M170.8,480.5V483.8M164.1,482.1H177.5M162.6,485.7V494.1M157.6,489.9H167.5M205.1,472.1V483.6M203.6,477.8H206.6M82.1,516.6V524.9M80.6,520.8H83.5M110.0,503.3V515.4M108.6,509.4H111.4M169.1,491.5V494.8M168.0,493.2H170.2M335.7,404.6V412.6M331.7,408.6H339.7M94.4,514.4V520.9M93.0,517.7H95.8M449.0,339.4V365.1M445.1,352.2H452.8M176.5,476.3V488.6M169.4,482.5H183.6M197.8,460.6V472.1M191.9,466.3H203.7M309.4,421.2V425.8M307.2,423.5H311.6M197.6,472.6V492.5M192.7,482.6H202.5M85.4,524.0V527.6M81.8,525.8H89.1M436.8,355.7V362.2M432.6,359.0H440.9M112.6,507.4V512.1M110.4,509.8H114.7M316.9,409.6V425.3M312.0,417.4H321.8M405.6,365.7V379.6M397.5,372.6H413.8M90.3,517.1V523.6M86.8,520.4H93.8M228.0,454.4V476.6M221.2,465.5H234.7M218.2,459.4V466.0M214.1,462.7H222.4M89.1,516.0V522.4M85.0,519.2H93.2M102.2,511.1V521.8M100.3,516.4H104.1M84.3,516.4V520.7M80.5,518.5H88.2M428.7,347.5V366.0M425.1,356.8H432.4M111.2,510.5V513.8M107.3,512.1H115.2M198.4,475.4V484.7M195.4,480.0H201.4M105.2,505.1V510.4M103.2,507.7H107.2M88.3,517.0V530.0M86.2,523.5H90.5M345.3,403.0V406.7M341.1,404.8H349.5M83.4,520.0V528.5M80.4,524.3H86.3M186.3,477.0V483.9M181.3,480.5H191.2M323.2,399.7V436.9M317.3,418.3H329.0M147.4,489.9V500.6M145.5,495.2H149.4M227.0,440.9V484.5M222.7,462.7H231.2M93.7,513.7V520.8M89.5,517.2H98.0M94.0,520.1V524.9M90.8,522.5H97.3M166.4,494.1V498.3M163.8,496.2H169.0M344.5,392.5V403.9M342.3,398.2H346.8M140.8,502.7V509.4M139.5,506.0H142.2M142.9,484.8V510.6M140.8,497.7H144.9M370.9,378.4V387.1M369.4,382.7H372.3M306.0,420.4V429.9M300.6,425.2H311.5M419.7,359.8V374.4M414.6,367.1H424.9M104.8,504.8V518.9M102.9,511.9H106.8M264.0,433.2V451.8M261.1,442.5H266.8M155.1,493.8V500.2M151.6,497.0H158.5M102.1,505.1V511.9M99.8,508.5H104.4M89.0,514.6V526.2M87.8,520.4H90.1M156.0,482.5V494.5M154.0,488.5H158.0M97.6,508.6V525.4M95.0,517.0H100.2M172.6,482.0V491.2M166.9,486.6H178.3M78.4,519.3V527.6M75.0,523.5H81.8M179.7,469.3V473.1M177.6,471.2H181.7M132.6,494.7V499.0M131.1,496.8H134.1M273.5,422.7V444.0M269.3,433.3H277.8M297.8,405.4V425.7M293.9,415.5H301.8M178.3,467.9V481.2M172.2,474.6H184.4M95.3,507.0V521.0M93.2,514.0H97.4M82.8,516.3V530.3M80.7,523.3H84.9M98.5,516.6V519.7M96.0,518.1H100.9M187.1,480.0V486.3M184.6,483.2H189.5M230.8,451.0V467.0M228.8,459.0H232.8M265.5,418.9V449.6M259.2,434.2H271.9M366.3,385.1V403.8M365.0,394.4H367.6M109.7,510.4V514.1M108.1,512.3H111.3M87.0,519.9V528.8M84.5,524.3H89.5M86.0,518.7V528.0M82.9,523.4H89.0M82.3,516.6V526.3M79.6,521.4H85.0M84.3,514.3V525.7M82.7,520.0H85.8M130.4,496.2V499.7M129.1,497.9H131.6M204.4,465.5V476.5M202.9,471.0H205.9M246.3,441.6V464.6M245.0,453.1H247.7M201.0,461.4V468.3M199.9,464.8H202.0M179.2,466.2V485.4M175.3,475.8H183.1M121.9,508.8V517.0M116.2,512.9H127.7M441.6,340.5V371.0M440.3,355.8H442.8M130.0,505.2V517.6M128.2,511.4H131.8M84.3,514.9V525.4M83.2,520.2H85.5M117.5,503.5V514.6M116.3,509.1H118.7M278.3,423.9V447.9M275.8,435.9H280.9M108.8,506.7V512.5M106.4,509.6H111.1M198.7,454.2V474.7M191.6,464.5H205.8M98.4,508.4V520.3M95.3,514.4H101.4M273.9,435.4V442.8M271.9,439.1H275.9M194.2,471.0V484.8M191.3,477.9H197.1M171.4,484.0V489.5M167.5,486.7H175.3M102.6,515.6V521.7M100.4,518.6H104.8M368.9,389.3V396.5M365.2,392.9H372.6M105.0,517.1V523.8M101.4,520.5H108.6M311.5,412.2V420.7M307.7,416.5H315.3M136.4,490.9V497.8M133.3,494.3H139.5M81.1,519.5V526.5M78.8,523.0H83.4M158.9,485.2V501.2M151.6,493.2H166.3M204.5,459.7V481.9M202.0,470.8H207.1M256.3,439.6V448.1M251.5,443.8H261.2M98.4,509.7V520.0M94.6,514.9H102.3M165.9,485.9V497.7M163.4,491.8H168.4M243.7,440.3V471.7M242.2,456.0H245.2M371.4,386.2V402.5M369.6,394.4H373.2M199.1,472.0V476.4M193.4,474.2H204.7M262.3,435.1V450.4M261.1,442.8H263.4M213.9,461.8V466.2M209.2,464.0H218.6M110.3,505.1V515.5M108.5,510.3H112.1M88.5,513.1V519.7M86.9,516.4H90.1M79.0,520.8V531.0M77.7,525.9H80.3M129.3,496.9V510.1M125.8,503.5H132.7M108.1,509.9V515.9M105.7,512.9H110.5M208.6,467.2V484.5M206.2,475.8H210.9M470.3,334.4V346.2M469.2,340.3H471.3M116.1,503.0V510.2M111.2,506.6H120.9M123.9,502.2V505.4M121.6,503.8H126.2M352.2,398.1V404.2M345.2,401.1H359.2M248.1,444.8V465.1M245.4,454.9H250.7M304.0,414.2V438.8M301.6,426.5H306.4M390.2,369.6V383.5M387.9,376.5H392.5M108.5,494.4V517.5M106.4,505.9H110.6M368.4,385.3V396.6M366.3,390.9H370.5M215.2,450.0V473.7M211.6,461.9H218.8M445.4,330.5V368.9M437.6,349.7H453.2M79.7,518.2V521.8M78.1,520.0H81.2M116.1,509.4V514.1M107.8,511.8H124.4M191.8,468.1V482.9M188.3,475.5H195.3M86.0,518.3V522.8M83.9,520.6H88.1M286.8,421.0V434.4M277.7,427.7H295.9M114.2,500.2V520.6M112.2,510.4H116.2M246.4,442.0V457.1M244.4,449.6H248.3M136.7,496.0V508.0M134.9,502.0H138.6M85.8,519.2V530.2M84.1,524.7H87.5M372.3,372.1V394.5M368.7,383.3H375.8M202.8,462.4V476.4M199.7,469.4H205.9M105.7,511.7V514.7M100.7,513.2H110.8M160.5,496.6V505.8M158.0,501.2H162.9M100.0,508.2V514.8M94.3,511.5H105.8M81.8,521.1V528.9M78.8,525.0H84.9M202.7,459.9V463.1M199.3,461.5H206.0M205.4,475.9V480.9M199.8,478.4H211.0M265.2,434.6V454.3M259.3,444.4H271.1M255.1,440.3V458.2M250.8,449.2H259.4M160.7,479.0V507.8M155.2,493.4H166.1M144.8,495.6V499.6M142.3,497.6H147.2M424.9,364.3V370.5M422.9,367.4H427.0M87.9,514.4V524.1M84.4,519.2H91.4M461.9,338.5V357.7M459.9,348.1H463.8M343.1,396.9V406.9M342.1,401.9H344.1M183.0,470.2V487.7M181.5,478.9H184.4M120.4,494.6V507.3M118.6,501.0H122.3M332.6,392.3V416.3M328.7,404.3H336.5M132.4,495.2V503.4M129.3,499.3H135.5M83.3,516.1V522.9M81.8,519.5H84.7M246.7,446.8V461.3M244.9,454.1H248.5M189.5,478.1V485.4M185.4,481.8H193.6M307.6,420.3V427.0M303.4,423.7H311.8M250.3,435.8V459.6M246.5,447.7H254.2M260.5,442.8V460.7M257.4,451.8H263.6M444.9,342.6V363.3M440.1,353.0H449.7M97.3,511.3V521.5M93.7,516.4H100.8M449.8,337.1V362.9M448.0,350.0H451.6M143.1,490.5V502.8M136.6,496.7H149.6M146.5,484.8V507.9M145.1,496.4H147.8M329.3,410.0V415.9M326.4,412.9H332.3M334.6,409.8V421.8M331.9,415.8H337.3M80.0,518.9V530.7M77.2,524.8H82.8M95.4,512.5V525.9M93.7,519.2H97.2M272.1,411.4V467.0M264.7,439.2H279.5M352.7,388.6V403.9M351.3,396.2H354.1M397.3,374.4V378.6M393.2,376.5H401.4M189.5,482.5V491.2M187.6,486.9H191.4M190.4,471.8V483.6M183.6,477.7H197.2M112.6,503.2V509.6M109.8,506.4H115.5M157.3,480.2V497.1M152.5,488.6H162.1M94.9,514.8V523.7M93.3,519.3H96.5M136.8,504.1V510.7M135.2,507.4H138.5M172.1,471.2V479.7M167.4,475.4H176.9M198.4,482.2V495.2M194.2,488.7H202.6M94.7,514.1V518.9M93.1,516.5H96.4M110.1,503.7V511.6M108.2,507.6H111.9M317.7,421.5V427.7M314.3,424.6H321.1M223.8,454.6V463.0M221.5,458.8H226.0M366.7,378.4V403.1M363.0,390.7H370.4M195.0,473.0V483.6M189.4,478.3H200.6M85.6,516.5V524.3M84.3,520.4H86.9M154.6,478.1V495.3M148.6,486.7H160.6M187.4,461.5V484.5M183.4,473.0H191.5M78.9,522.1V531.1M77.5,526.6H80.3M96.9,518.4V524.1M92.9,521.2H100.9M87.3,517.1V523.1M80.1,520.1H94.5M424.7,365.5V372.5M420.5,369.0H428.9M286.1,427.0V433.2M277.9,430.1H294.2M152.3,490.6V498.8M150.5,494.7H154.1M193.5,468.9V480.2M191.8,474.6H195.2M202.2,462.8V485.5M194.7,474.1H209.6M94.9,514.1V524.0M93.8,519.1H95.9M103.5,509.0V518.4M99.8,513.7H107.1M85.6,522.2V528.9M82.7,525.6H88.5M87.0,520.4V523.6M85.4,522.0H88.7M130.3,500.7V513.8M126.6,507.3H133.9M95.5,506.8V517.9M90.8,512.3H100.2M106.4,501.0V513.3M103.4,507.1H109.4M102.8,508.2V515.7M101.5,512.0H104.0M148.3,496.1V504.5M145.8,500.3H150.8M83.1,514.2V530.2M77.8,522.2H88.4M77.3,519.9V525.4M75.6,522.6H78.9M238.6,462.8V465.8M235.5,464.3H241.7M92.6,516.9V525.2M90.4,521.1H94.8M109.7,511.7V517.6M105.3,514.7H114.0M208.9,475.2V478.7M203.5,476.9H214.4M371.8,385.3V406.1M369.5,395.7H374.1M279.9,438.7V443.9M278.6,441.3H281.1M412.2,366.8V373.9M411.0,370.4H413.4M224.8,447.2V455.2M222.2,451.2H227.3M79.6,510.0V534.0M77.6,522.0H81.7M283.1,443.9V447.4M277.0,445.7H289.1M112.3,507.7V522.2M108.1,514.9H116.5M214.3,460.2V477.3M208.7,468.8H219.9M330.3,387.3V409.4M321.8,398.3H338.7M448.5,331.6V361.5M444.2,346.5H452.7M337.2,404.4V417.4M334.0,410.9H340.4M425.3,357.0V362.9M418.0,359.9H432.5M187.1,480.6V484.6M184.0,482.6H190.1M116.7,517.3V521.2M114.2,519.2H119.2M180.7,488.6V497.0M175.3,492.8H186.1M457.3,343.1V350.2M452.4,346.7H462.2M158.6,495.9V509.6M153.3,502.8H163.9M79.8,518.0V529.7M76.4,523.9H83.2M159.8,495.1V500.9M158.2,498.0H161.3M307.8,413.8V418.7M305.3,416.3H310.3M171.0,491.6V501.2M169.5,496.4H172.6M205.3,471.5V478.7M202.4,475.1H208.2M201.0,471.7V482.6M196.6,477.1H205.5M410.3,350.8V396.8M409.3,373.8H411.3M204.6,452.7V481.7M201.6,467.2H207.7M93.7,505.7V524.1M88.9,514.9H98.5M130.2,495.8V508.7M127.3,502.3H133.1M289.1,426.7V457.4M283.9,442.1H294.3M91.7,516.8V525.1M88.7,521.0H94.7M310.1,413.8V431.6M306.0,422.7H314.2M358.9,400.0V403.2M356.7,401.6H361.2M319.2,406.7V427.3M316.9,417.0H321.6M356.1,383.2V414.6M352.0,398.9H360.2M80.0,515.8V522.7M77.4,519.3H82.7M94.5,508.5V520.9M91.2,514.7H97.7M121.9,502.4V512.9M118.4,507.6H125.3M438.0,350.7V362.4M431.9,356.5H444.1M201.7,463.9V488.6M200.3,476.3H203.0M185.6,473.7V480.1M181.9,476.9H189.4M109.8,507.9V518.0M105.5,512.9H114.0M78.9,521.2V526.0M76.0,523.6H81.8M472.1,328.3V344.9M468.9,336.6H475.4M140.3,498.0V507.2M138.0,502.6H142.6M134.1,497.0V501.7M131.5,499.4H136.7M186.9,466.1V471.2M183.3,468.7H190.6M77.7,521.6V533.0M75.6,527.3H79.8M246.8,445.5V477.7M242.9,461.6H250.7M119.4,507.8V511.2M117.7,509.5H121.1M298.5,418.4V453.9M297.2,436.1H299.7M88.9,521.0V527.4M86.9,524.2H90.8M217.7,466.8V477.7M212.1,472.3H223.2M436.4,343.3V374.1M428.7,358.7H444.1M258.6,422.5V449.8M253.5,436.2H263.7M110.7,503.3V513.7M106.3,508.5H115.2M381.9,382.2V388.6M379.8,385.4H384.0M147.7,484.5V500.5M144.3,492.5H151.2M121.0,504.5V516.4M116.5,510.4H125.6M224.7,454.4V481.4M216.3,467.9H233.2M448.3,343.2V356.9M442.6,350.1H454.0M221.2,453.7V480.7M218.1,467.2H224.3M85.3,520.0V530.5M84.1,525.3H86.5M100.0,507.3V519.5M93.6,513.4H106.4M261.8,440.6V450.0M259.1,445.3H264.5M89.0,518.1V523.8M87.9,521.0H90.2M153.9,490.9V495.1M152.2,493.0H155.7M217.5,451.9V476.8M214.9,464.3H220.2M114.5,505.0V509.6M111.9,507.3H117.1M341.5,404.7V408.7M340.3,406.7H342.6M138.6,495.2V511.6M136.2,503.4H141.0M301.7,423.9V439.0M298.6,431.5H304.9M374.7,381.3V399.0M365.0,390.1H384.3M204.4,459.9V470.2M201.0,465.1H207.8M323.7,400.1V418.2M321.7,409.2H325.6M87.7,516.0V522.8M83.4,519.4H91.9M140.3,489.1V507.4M138.6,498.2H142.0M171.0,470.9V494.4M169.2,482.6H172.9M467.5,326.0V356.0M464.3,341.0H470.8M81.1,515.6V526.3M79.0,520.9H83.2M108.1,504.8V524.8M101.9,514.8H114.4M94.2,512.1V521.1M90.0,516.6H98.3M101.0,515.4V521.9M99.1,518.7H102.8M281.6,420.6V425.8M274.0,423.2H289.2M81.4,516.9V525.0M79.0,520.9H83.8M91.5,512.9V525.2M88.7,519.0H94.3M474.1,334.6V348.4M468.2,341.5H480.1M221.7,448.4V462.5M220.5,455.5H222.9M133.3,491.4V495.5M131.7,493.5H135.0M94.5,510.6V519.4M91.7,515.0H97.2M192.6,463.7V486.6M191.1,475.1H194.0M78.4,516.0V525.5M75.7,520.7H81.0M82.4,514.9V525.7M79.9,520.3H84.9M276.0,420.7V435.1M271.1,427.9H280.8M167.7,484.0V489.0M164.6,486.5H170.8M170.0,489.3V493.6M165.6,491.4H174.3M88.7,508.1V531.1M87.4,519.6H90.0M344.1,387.0V408.9M338.7,397.9H349.6M113.6,502.7V506.4M111.9,504.6H115.2M79.1,515.2V524.9M74.0,520.0H84.3M196.5,470.7V481.9M190.2,476.3H202.9M80.0,518.0V522.6M77.6,520.3H82.4M103.9,514.2V517.4M101.8,515.8H106.0M367.6,395.0V411.0M362.9,403.0H372.3M287.1,429.3V448.1M285.7,438.7H288.6M83.1,522.2V526.7M81.9,524.4H84.3M202.2,464.8V480.7M196.0,472.8H208.4M103.3,512.1V519.4M101.3,515.8H105.3M426.8,356.5V364.1M424.6,360.3H429.1M348.7,395.1V404.6M345.7,399.9H351.8M224.2,439.2V477.5M217.2,458.4H231.1M199.2,468.6V474.8M196.6,471.7H201.7M142.3,500.3V515.4M139.3,507.8H145.3M196.2,463.3V491.7M190.0,477.5H202.4M203.4,472.1V487.3M196.6,479.7H210.1M191.7,454.5V487.7M186.1,471.1H197.3M124.2,500.5V508.3M121.4,504.4H126.9M119.4,496.9V511.7M113.8,504.3H125.0M346.5,390.8V394.8M345.0,392.8H347.9M91.5,514.6V519.3M86.0,516.9H96.9M403.2,356.1V388.6M397.2,372.4H409.1M101.3,515.8V521.8M98.5,518.8H104.0M132.0,513.7V522.7M129.3,518.2H134.6M152.0,482.8V496.4M149.9,489.6H154.1M442.5,349.1V353.6M440.8,351.4H444.2M368.8,384.4V389.1M362.1,386.7H375.5M386.5,382.7V395.7M383.4,389.2H389.7M242.0,463.0V466.1M240.2,464.5H243.9M235.1,435.1V481.8M231.1,458.5H239.0M158.9,496.2V502.6M155.7,499.4H162.2M79.4,521.3V526.5M77.6,523.9H81.3M119.5,505.4V511.1M116.7,508.3H122.3M229.5,449.7V461.0M224.0,455.4H235.0M174.2,466.8V494.3M169.3,480.6H179.1M186.4,464.1V472.0M184.5,468.0H188.3M317.0,403.5V406.9M315.5,405.2H318.5M84.7,518.8V526.5M81.4,522.6H88.0M230.0,453.5V462.4M225.5,457.9H234.4M155.6,493.2V496.9M153.6,495.0H157.6M82.0,519.5V528.4M80.6,524.0H83.5M222.5,454.8V469.7M218.7,462.3H226.3M91.5,511.1V526.6M90.1,518.9H93.0M237.7,446.0V453.2M234.3,449.6H241.0M131.7,502.6V514.2M130.2,508.4H133.3M346.4,402.4V405.8M344.5,404.1H348.3M102.6,516.7V522.8M100.6,519.7H104.5M109.3,509.2V513.3M105.9,511.2H112.8M90.8,508.7V527.7M88.8,518.2H92.8M97.4,508.1V523.2M92.3,515.6H102.5M460.8,328.9V363.7M454.3,346.3H467.3M117.0,496.2V514.6M115.8,505.4H118.3M197.1,460.1V485.7M194.9,472.9H199.4M90.4,515.8V521.6M86.4,518.7H94.4M103.0,508.7V512.6M101.9,510.7H104.1M149.2,488.8V504.0M147.7,496.4H150.7M293.3,416.9V440.0M288.1,428.5H298.4M91.2,507.4V526.4M90.0,516.9H92.5M194.6,487.0V494.2M191.5,490.6H197.7M194.5,468.8V476.6M190.2,472.7H198.8M80.8,515.8V528.5M75.6,522.1H86.0M168.4,479.7V512.7M166.9,496.2H170.0M144.8,511.3V516.2M135.5,513.8H154.1M114.3,507.0V512.9M111.9,509.9H116.7M417.1,341.3V387.7M414.5,364.5H419.7M167.2,475.9V490.6M165.8,483.2H168.6M77.0,521.8V528.4M75.1,525.1H79.0M154.7,491.0V500.1M153.6,495.5H155.8M383.6,372.6V389.2M379.3,380.9H387.9M192.7,469.7V476.3M189.6,473.0H195.8M136.8,488.8V503.2M133.4,496.0H140.3M367.8,371.3V415.1M365.8,393.2H369.8M378.7,376.5V393.7M377.4,385.1H380.0M202.1,461.3V475.4M194.9,468.3H209.3M313.9,415.8V427.3M312.8,421.6H315.0M166.0,492.4V506.7M159.1,499.6H172.9M101.5,503.6V514.2M99.2,508.9H103.7M243.3,453.1V457.5M238.9,455.3H247.7M168.2,473.2V485.2M164.9,479.2H171.6M339.8,399.6V422.1M338.6,410.8H341.1M323.8,410.9V422.6M316.7,416.7H330.9M139.4,499.4V509.2M137.9,504.3H140.8M201.5,464.9V474.2M200.2,469.5H202.8M334.0,409.1V420.6M331.2,414.8H336.9M77.3,520.9V527.9M74.8,524.4H79.9M98.1,516.5V528.4M95.3,522.4H100.9M275.5,434.8V446.7M270.8,440.7H280.2M81.2,517.5V531.6M76.4,524.6H86.0M346.2,397.0V419.0M342.6,408.0H349.8M117.2,504.0V514.4M116.1,509.2H118.4M470.8,336.0V422.0M467.8,380.3H473.8M324.7,408.0V468.0M321.7,436.0H327.7M419.7,378.0V398.0M416.7,388.7H422.7M470.5,340.0V362.0M467.5,352.0H473.5M250.0,440.0V500.0M247.0,469.0H253.0M380.0,380.0V405.0M377.0,393.0H383.0" stroke="#bdbdbd" stroke-width="0.7" stroke-opacity="0.4" fill="none"/>
<path d="M105.4,514.1h2.4M106.6,512.9v2.4M79.1,524.3h2.4M80.3,523.1v2.4M78.2,527.8h2.4M79.4,526.6v2.4M198.7,470.9h2.4M199.9,469.7v2.4M371.2,386.4h2.4M372.4,385.2v2.4M183.3,478.7h2.4M184.5,477.5v2.4M131.4,506.1h2.4M132.6,504.9v2.4M272.6,437.0h2.4M273.8,435.8v2.4M122.9,505.1h2.4M124.1,503.9v2.4M190.2,469.3h2.4M191.4,468.1v2.4M379.0,392.9h2.4M380.2,391.7v2.4M91.0,520.9h2.4M92.2,519.7v2.4M169.1,493.6h2.4M170.3,492.4v2.4M186.1,472.9h2.4M187.3,471.7v2.4M311.6,421.8h2.4M312.8,420.6v2.4M132.9,504.2h2.4M134.1,503.0v2.4M78.0,520.6h2.4M79.2,519.4v2.4M189.7,474.7h2.4M190.9,473.5v2.4M191.1,472.1h2.4M192.3,470.9v2.4M191.2,470.8h2.4M192.4,469.6v2.4M77.0,523.0h2.4M78.2,521.8v2.4M88.3,522.0h2.4M89.5,520.8v2.4M288.2,437.7h2.4M289.4,436.5v2.4M98.4,518.9h2.4M99.6,517.7v2.4M134.5,496.7h2.4M135.7,495.5v2.4M78.0,523.1h2.4M79.2,521.9v2.4M75.8,523.5h2.4M77.0,522.3v2.4M105.2,512.2h2.4M106.4,511.0v2.4M102.2,508.2h2.4M103.4,507.0v2.4M79.6,521.8h2.4M80.8,520.6v2.4M105.9,507.1h2.4M107.1,505.9v2.4M91.8,525.9h2.4M93.0,524.7v2.4M130.7,510.8h2.4M131.9,509.6v2.4M178.9,485.6h2.4M180.1,484.4v2.4M339.8,421.6h2.4M341.0,420.4v2.4M148.4,498.0h2.4M149.6,496.8v2.4M168.8,487.0h2.4M170.0,485.8v2.4M473.8,333.3h2.4M475.0,332.1v2.4M87.1,519.3h2.4M88.3,518.1v2.4M164.2,497.2h2.4M165.4,496.0v2.4M358.2,394.1h2.4M359.4,392.9v2.4M255.7,446.2h2.4M256.9,445.0v2.4M134.8,494.3h2.4M136.0,493.1v2.4M83.1,518.4h2.4M84.3,517.2v2.4M437.7,348.9h2.4M438.9,347.7v2.4M118.4,507.6h2.4M119.6,506.4v2.4M413.4,361.6h2.4M414.6,360.4v2.4M115.9,506.3h2.4M117.1,505.1v2.4M103.1,511.3h2.4M104.3,510.1v2.4M412.0,366.7h2.4M413.2,365.5v2.4M149.0,490.2h2.4M150.2,489.0v2.4M227.3,460.0h2.4M228.5,458.8v2.4M125.9,512.6h2.4M127.1,511.4v2.4M116.9,511.3h2.4M118.1,510.1v2.4M153.5,493.9h2.4M154.7,492.7v2.4M147.7,494.4h2.4M148.9,493.2v2.4M143.7,490.5h2.4M144.9,489.3v2.4M153.3,505.2h2.4M154.5,504.0v2.4M88.3,517.8h2.4M89.5,516.6v2.4M89.4,523.4h2.4M90.6,522.2v2.4M313.9,410.3h2.4M315.1,409.1v2.4M409.5,370.2h2.4M410.7,369.0v2.4M225.4,469.1h2.4M226.6,467.9v2.4M172.3,482.7h2.4M173.5,481.5v2.4M89.9,521.0h2.4M91.1,519.8v2.4M452.0,347.6h2.4M453.2,346.4v2.4M92.4,517.6h2.4M93.6,516.4v2.4M455.3,343.0h2.4M456.5,341.8v2.4M428.3,360.3h2.4M429.5,359.1v2.4M96.3,514.8h2.4M97.5,513.6v2.4M211.6,466.6h2.4M212.8,465.4v2.4M152.5,500.4h2.4M153.7,499.2v2.4M87.4,520.5h2.4M88.6,519.3v2.4M79.9,521.5h2.4M81.1,520.3v2.4M146.3,495.5h2.4M147.5,494.3v2.4M77.1,524.9h2.4M78.3,523.7v2.4M377.7,380.3h2.4M378.9,379.1v2.4M185.4,486.8h2.4M186.6,485.6v2.4M185.2,498.4h2.4M186.4,497.2v2.4M128.5,502.6h2.4M129.7,501.4v2.4M106.9,510.1h2.4M108.1,508.9v2.4M315.7,418.7h2.4M316.9,417.5v2.4M92.9,519.9h2.4M94.1,518.7v2.4M116.4,512.2h2.4M117.6,511.0v2.4M87.9,522.1h2.4M89.1,520.9v2.4M88.4,519.8h2.4M89.6,518.6v2.4M92.7,515.6h2.4M93.9,514.4v2.4M175.6,476.1h2.4M176.8,474.9v2.4M265.9,450.8h2.4M267.1,449.6v2.4M92.9,514.2h2.4M94.1,513.0v2.4M173.7,484.4h2.4M174.9,483.2v2.4M339.5,406.6h2.4M340.7,405.4v2.4M440.5,354.4h2.4M441.7,353.2v2.4M100.1,514.8h2.4M101.3,513.6v2.4M161.1,494.5h2.4M162.3,493.3v2.4M286.0,431.9h2.4M287.2,430.7v2.4M76.7,526.4h2.4M77.9,525.2v2.4M233.1,458.9h2.4M234.3,457.7v2.4M167.8,488.1h2.4M169.0,486.9v2.4M96.9,514.8h2.4M98.1,513.6v2.4M89.3,521.7h2.4M90.5,520.5v2.4M319.6,418.3h2.4M320.8,417.1v2.4M101.7,514.9h2.4M102.9,513.7v2.4M468.1,335.5h2.4M469.3,334.3v2.4M119.2,519.4h2.4M120.4,518.2v2.4M83.5,522.5h2.4M84.7,521.3v2.4M83.9,524.3h2.4M85.1,523.1v2.4M192.8,478.7h2.4M194.0,477.5v2.4M123.1,506.9h2.4M124.3,505.7v2.4M186.1,468.8h2.4M187.3,467.6v2.4M443.8,353.4h2.4M445.0,352.2v2.4M133.8,495.8h2.4M135.0,494.6v2.4M93.4,515.3h2.4M94.6,514.1v2.4M197.3,475.1h2.4M198.5,473.9v2.4M199.7,474.3h2.4M200.9,473.1v2.4M194.7,468.1h2.4M195.9,466.9v2.4M276.7,438.7h2.4M277.9,437.5v2.4M93.5,516.2h2.4M94.7,515.0v2.4M174.3,484.4h2.4M175.5,483.2v2.4M123.0,511.7h2.4M124.2,510.5v2.4M84.0,519.2h2.4M85.2,518.0v2.4M415.2,356.9h2.4M416.4,355.7v2.4M79.6,522.7h2.4M80.8,521.5v2.4M191.6,477.7h2.4M192.8,476.5v2.4M127.4,502.3h2.4M128.6,501.1v2.4M379.9,392.2h2.4M381.1,391.0v2.4M116.9,511.6h2.4M118.1,510.4v2.4M458.6,343.6h2.4M459.8,342.4v2.4M417.7,363.9h2.4M418.9,362.7v2.4M196.2,469.3h2.4M197.4,468.1v2.4M77.8,522.7h2.4M79.0,521.5v2.4M311.6,433.8h2.4M312.8,432.6v2.4M92.4,517.6h2.4M93.6,516.4v2.4M102.8,516.5h2.4M104.0,515.3v2.4M216.6,458.1h2.4M217.8,456.9v2.4M158.1,495.8h2.4M159.3,494.6v2.4M200.0,482.7h2.4M201.2,481.5v2.4M200.2,472.9h2.4M201.4,471.7v2.4M99.9,515.1h2.4M101.1,513.9v2.4M360.9,394.3h2.4M362.1,393.1v2.4M231.9,452.3h2.4M233.1,451.1v2.4M111.8,507.5h2.4M113.0,506.3v2.4M176.8,488.7h2.4M178.0,487.5v2.4M109.7,511.1h2.4M110.9,509.9v2.4M109.6,513.9h2.4M110.8,512.7v2.4M77.1,522.5h2.4M78.3,521.3v2.4M373.8,394.6h2.4M375.0,393.4v2.4M100.3,517.1h2.4M101.5,515.9v2.4M131.5,505.8h2.4M132.7,504.6v2.4M199.6,473.9h2.4M200.8,472.7v2.4M94.3,513.1h2.4M95.5,511.9v2.4M91.1,518.2h2.4M92.3,517.0v2.4M192.7,470.1h2.4M193.9,468.9v2.4M101.2,513.6h2.4M102.4,512.4v2.4M356.2,399.1h2.4M357.4,397.9v2.4M433.3,357.7h2.4M434.5,356.5v2.4M87.5,519.9h2.4M88.7,518.7v2.4M104.5,513.1h2.4M105.7,511.9v2.4M117.2,512.1h2.4M118.4,510.9v2.4M386.1,378.9h2.4M387.3,377.7v2.4M126.1,513.9h2.4M127.3,512.7v2.4M210.7,464.8h2.4M211.9,463.6v2.4M81.6,524.6h2.4M82.8,523.4v2.4M395.0,378.3h2.4M396.2,377.1v2.4M170.8,491.5h2.4M172.0,490.3v2.4M329.5,406.5h2.4M330.7,405.3v2.4M83.0,523.8h2.4M84.2,522.6v2.4M232.1,458.2h2.4M233.3,457.0v2.4M126.0,497.4h2.4M127.2,496.2v2.4M114.9,507.7h2.4M116.1,506.5v2.4M183.6,481.4h2.4M184.8,480.2v2.4M77.9,523.1h2.4M79.1,521.9v2.4M196.6,485.2h2.4M197.8,484.0v2.4M364.6,391.3h2.4M365.8,390.1v2.4M113.3,512.1h2.4M114.5,510.9v2.4M164.0,485.3h2.4M165.2,484.1v2.4M167.2,486.4h2.4M168.4,485.2v2.4M95.2,511.9h2.4M96.4,510.7v2.4M162.6,487.5h2.4M163.8,486.3v2.4M123.8,511.6h2.4M125.0,510.4v2.4M129.6,514.1h2.4M130.8,512.9v2.4M76.0,525.2h2.4M77.2,524.0v2.4M183.8,480.6h2.4M185.0,479.4v2.4M106.8,508.1h2.4M108.0,506.9v2.4M103.1,516.5h2.4M104.3,515.3v2.4M148.8,497.0h2.4M150.0,495.8v2.4M182.0,477.6h2.4M183.2,476.4v2.4M418.7,357.1h2.4M419.9,355.9v2.4M193.6,486.2h2.4M194.8,485.0v2.4M135.1,494.3h2.4M136.3,493.1v2.4M78.9,521.5h2.4M80.1,520.3v2.4M76.2,521.5h2.4M77.4,520.3v2.4M176.4,472.2h2.4M177.6,471.0v2.4M161.2,485.5h2.4M162.4,484.3v2.4M137.6,505.4h2.4M138.8,504.2v2.4M145.1,498.0h2.4M146.3,496.8v2.4M278.1,432.8h2.4M279.3,431.6v2.4M98.5,514.6h2.4M99.7,513.4v2.4M80.1,524.0h2.4M81.3,522.8v2.4M94.2,520.1h2.4M95.4,518.9v2.4M373.5,389.0h2.4M374.7,387.8v2.4M94.4,517.6h2.4M95.6,516.4v2.4M84.6,527.0h2.4M85.8,525.8v2.4M224.9,457.3h2.4M226.1,456.1v2.4M195.4,479.5h2.4M196.6,478.3v2.4M125.1,503.3h2.4M126.3,502.1v2.4M355.7,385.9h2.4M356.9,384.7v2.4M98.2,516.6h2.4M99.4,515.4v2.4M155.7,491.6h2.4M156.9,490.4v2.4M181.1,482.8h2.4M182.3,481.6v2.4M129.9,504.2h2.4M131.1,503.0v2.4M99.6,514.2h2.4M100.8,513.0v2.4M165.4,503.6h2.4M166.6,502.4v2.4M88.9,516.6h2.4M90.1,515.4v2.4M380.5,383.4h2.4M381.7,382.2v2.4M100.2,515.0h2.4M101.4,513.8v2.4M156.7,490.8h2.4M157.9,489.6v2.4M392.7,377.8h2.4M393.9,376.6v2.4M189.7,477.1h2.4M190.9,475.9v2.4M153.6,493.8h2.4M154.8,492.6v2.4M197.4,475.6h2.4M198.6,474.4v2.4M135.3,503.8h2.4M136.5,502.6v2.4M198.9,490.2h2.4M200.1,489.0v2.4M147.1,494.5h2.4M148.3,493.3v2.4M80.7,521.2h2.4M81.9,520.0v2.4M323.7,401.6h2.4M324.9,400.4v2.4M277.0,443.9h2.4M278.2,442.7v2.4M92.3,520.4h2.4M93.5,519.2v2.4M243.9,464.9h2.4M245.1,463.7v2.4M289.6,431.3h2.4M290.8,430.1v2.4M367.8,391.9h2.4M369.0,390.7v2.4M364.4,392.9h2.4M365.6,391.7v2.4M194.0,480.9h2.4M195.2,479.7v2.4M370.5,399.8h2.4M371.7,398.6v2.4M172.6,498.5h2.4M173.8,497.3v2.4M80.4,523.8h2.4M81.6,522.6v2.4M104.8,508.4h2.4M106.0,507.2v2.4M99.6,514.0h2.4M100.8,512.8v2.4M208.4,475.3h2.4M209.6,474.1v2.4M373.3,397.2h2.4M374.5,396.0v2.4M377.8,385.2h2.4M379.0,384.0v2.4M309.3,418.2h2.4M310.5,417.0v2.4M99.5,510.9h2.4M100.7,509.7v2.4M90.2,516.7h2.4M91.4,515.5v2.4M262.0,451.2h2.4M263.2,450.0v2.4M91.4,518.6h2.4M92.6,517.4v2.4M258.3,447.9h2.4M259.5,446.7v2.4M107.1,511.7h2.4M108.3,510.5v2.4M370.3,389.7h2.4M371.5,388.5v2.4M181.0,479.3h2.4M182.2,478.1v2.4M198.2,463.8h2.4M199.4,462.6v2.4M285.2,425.3h2.4M286.4,424.1v2.4M336.4,402.0h2.4M337.6,400.8v2.4M134.0,501.4h2.4M135.2,500.2v2.4M78.0,524.6h2.4M79.2,523.4v2.4M391.6,378.8h2.4M392.8,377.6v2.4M330.4,413.8h2.4M331.6,412.6v2.4M314.2,415.2h2.4M315.4,414.0v2.4M178.3,486.7h2.4M179.5,485.5v2.4M110.2,509.6h2.4M111.4,508.4v2.4M224.2,459.2h2.4M225.4,458.0v2.4M93.1,518.6h2.4M94.3,517.4v2.4M79.8,522.4h2.4M81.0,521.2v2.4M326.9,400.1h2.4M328.1,398.9v2.4M100.3,514.2h2.4M101.5,513.0v2.4M319.8,414.4h2.4M321.0,413.2v2.4M104.4,516.5h2.4M105.6,515.3v2.4M154.9,507.7h2.4M156.1,506.5v2.4M172.3,478.1h2.4M173.5,476.9v2.4M310.6,432.3h2.4M311.8,431.1v2.4M99.3,520.2h2.4M100.5,519.0v2.4M137.4,510.1h2.4M138.6,508.9v2.4M166.8,485.1h2.4M168.0,483.9v2.4M145.1,507.2h2.4M146.3,506.0v2.4M106.6,511.1h2.4M107.8,509.9v2.4M151.1,496.2h2.4M152.3,495.0v2.4M184.8,487.7h2.4M186.0,486.5v2.4M266.4,443.1h2.4M267.6,441.9v2.4M404.9,368.3h2.4M406.1,367.1v2.4M137.0,501.6h2.4M138.2,500.4v2.4M114.1,510.8h2.4M115.3,509.6v2.4M266.3,442.5h2.4M267.5,441.3v2.4M340.4,409.6h2.4M341.6,408.4v2.4M404.6,373.3h2.4M405.8,372.1v2.4M279.8,437.5h2.4M281.0,436.3v2.4M187.3,470.4h2.4M188.5,469.2v2.4M137.7,501.7h2.4M138.9,500.5v2.4M123.1,511.0h2.4M124.3,509.8v2.4M164.9,499.2h2.4M166.1,498.0v2.4M357.5,397.9h2.4M358.7,396.7v2.4M309.1,420.0h2.4M310.3,418.8v2.4M99.7,516.6h2.4M100.9,515.4v2.4M258.2,437.3h2.4M259.4,436.1v2.4M432.4,360.1h2.4M433.6,358.9v2.4M452.0,346.2h2.4M453.2,345.0v2.4M274.6,445.4h2.4M275.8,444.2v2.4M115.2,506.6h2.4M116.4,505.4v2.4M82.2,525.2h2.4M83.4,524.0v2.4M83.6,520.3h2.4M84.8,519.1v2.4M263.3,447.0h2.4M264.5,445.8v2.4M90.7,521.7h2.4M91.9,520.5v2.4M362.1,401.6h2.4M363.3,400.4v2.4M369.8,390.4h2.4M371.0,389.2v2.4M188.6,484.2h2.4M189.8,483.0v2.4M80.1,525.5h2.4M81.3,524.3v2.4M184.6,485.0h2.4M185.8,483.8v2.4M147.0,488.9h2.4M148.2,487.7v2.4M122.8,511.4h2.4M124.0,510.2v2.4M203.8,474.4h2.4M205.0,473.2v2.4M88.5,519.9h2.4M89.7,518.7v2.4M164.8,486.3h2.4M166.0,485.1v2.4M169.3,493.5h2.4M170.5,492.3v2.4M84.6,523.8h2.4M85.8,522.6v2.4M102.8,512.8h2.4M104.0,511.6v2.4M184.0,479.1h2.4M185.2,477.9v2.4M125.1,502.1h2.4M126.3,500.9v2.4M372.1,390.2h2.4M373.3,389.0v2.4M195.3,467.4h2.4M196.5,466.2v2.4M157.1,482.2h2.4M158.3,481.0v2.4M112.6,509.7h2.4M113.8,508.5v2.4M79.0,524.8h2.4M80.2,523.6v2.4M219.6,453.3h2.4M220.8,452.1v2.4M101.9,508.9h2.4M103.1,507.7v2.4M211.7,481.5h2.4M212.9,480.3v2.4M196.9,475.8h2.4M198.1,474.6v2.4M78.1,526.6h2.4M79.3,525.4v2.4M226.2,458.3h2.4M227.4,457.1v2.4M89.9,516.5h2.4M91.1,515.3v2.4M80.2,525.4h2.4M81.4,524.2v2.4M132.9,500.6h2.4M134.1,499.4v2.4M94.9,520.6h2.4M96.1,519.4v2.4M255.7,461.5h2.4M256.9,460.3v2.4M137.9,508.7h2.4M139.1,507.5v2.4M303.5,414.3h2.4M304.7,413.1v2.4M137.2,501.7h2.4M138.4,500.5v2.4M370.8,384.6h2.4M372.0,383.4v2.4M187.4,486.2h2.4M188.6,485.0v2.4M403.9,367.2h2.4M405.1,366.0v2.4M362.1,397.5h2.4M363.3,396.3v2.4M279.3,434.0h2.4M280.5,432.8v2.4M98.1,521.3h2.4M99.3,520.1v2.4M155.6,483.5h2.4M156.8,482.3v2.4M109.9,512.3h2.4M111.1,511.1v2.4M261.1,450.5h2.4M262.3,449.3v2.4M76.7,522.6h2.4M77.9,521.4v2.4M224.4,455.9h2.4M225.6,454.7v2.4M90.2,515.3h2.4M91.4,514.1v2.4M179.0,482.6h2.4M180.2,481.4v2.4M342.1,399.8h2.4M343.3,398.6v2.4M78.2,523.4h2.4M79.4,522.2v2.4M198.6,479.5h2.4M199.8,478.3v2.4M134.3,492.6h2.4M135.5,491.4v2.4M199.7,464.9h2.4M200.9,463.7v2.4M106.5,506.2h2.4M107.7,505.0v2.4M193.4,475.6h2.4M194.6,474.4v2.4M81.4,526.3h2.4M82.6,525.1v2.4M92.3,514.4h2.4M93.5,513.2v2.4M157.0,493.0h2.4M158.2,491.8v2.4M86.8,522.0h2.4M88.0,520.8v2.4M199.0,470.4h2.4M200.2,469.2v2.4M85.9,521.6h2.4M87.1,520.4v2.4M381.4,386.3h2.4M382.6,385.1v2.4M140.7,505.4h2.4M141.9,504.2v2.4M161.3,488.5h2.4M162.5,487.3v2.4M104.7,511.5h2.4M105.9,510.3v2.4M106.0,514.0h2.4M107.2,512.8v2.4M125.0,503.8h2.4M126.2,502.6v2.4M372.3,382.4h2.4M373.5,381.2v2.4M118.0,503.9h2.4M119.2,502.7v2.4M474.9,334.4h2.4M476.1,333.2v2.4M109.0,512.5h2.4M110.2,511.3v2.4M257.2,446.3h2.4M258.4,445.1v2.4M290.2,427.4h2.4M291.4,426.2v2.4M104.0,515.0h2.4M105.2,513.8v2.4M231.6,455.9h2.4M232.8,454.7v2.4M111.9,514.0h2.4M113.1,512.8v2.4M300.2,424.6h2.4M301.4,423.4v2.4M206.5,477.7h2.4M207.7,476.5v2.4M350.2,401.1h2.4M351.4,399.9v2.4M244.0,456.6h2.4M245.2,455.4v2.4M106.9,516.2h2.4M108.1,515.0v2.4M148.1,497.0h2.4M149.3,495.8v2.4M350.3,404.0h2.4M351.5,402.8v2.4M94.0,512.4h2.4M95.2,511.2v2.4M150.7,495.8h2.4M151.9,494.6v2.4M109.1,509.6h2.4M110.3,508.4v2.4M79.3,524.1h2.4M80.5,522.9v2.4M149.0,495.9h2.4M150.2,494.7v2.4M324.0,410.5h2.4M325.2,409.3v2.4M102.1,514.2h2.4M103.3,513.0v2.4M188.5,473.7h2.4M189.7,472.5v2.4M363.1,396.8h2.4M364.3,395.6v2.4M290.0,442.6h2.4M291.2,441.4v2.4M127.0,510.4h2.4M128.2,509.2v2.4M358.7,391.3h2.4M359.9,390.1v2.4M467.9,337.9h2.4M469.1,336.7v2.4M130.4,506.5h2.4M131.6,505.3v2.4M83.5,517.7h2.4M84.7,516.5v2.4M182.5,497.4h2.4M183.7,496.2v2.4M83.7,523.3h2.4M84.9,522.1v2.4M195.9,479.6h2.4M197.1,478.4v2.4M397.5,376.4h2.4M398.7,375.2v2.4M109.2,517.4h2.4M110.4,516.2v2.4M150.3,494.3h2.4M151.5,493.1v2.4M121.5,504.7h2.4M122.7,503.5v2.4M186.0,487.0h2.4M187.2,485.8v2.4M278.5,439.4h2.4M279.7,438.2v2.4M124.1,506.6h2.4M125.3,505.4v2.4M89.2,519.6h2.4M90.4,518.4v2.4M152.9,500.1h2.4M154.1,498.9v2.4M224.9,462.2h2.4M226.1,461.0v2.4M95.1,519.3h2.4M96.3,518.1v2.4M200.0,477.1h2.4M201.2,475.9v2.4M129.0,508.4h2.4M130.2,507.2v2.4M174.2,495.4h2.4M175.4,494.2v2.4M179.6,486.9h2.4M180.8,485.7v2.4M99.1,515.0h2.4M100.3,513.8v2.4M136.7,502.1h2.4M137.9,500.9v2.4M132.2,509.8h2.4M133.4,508.6v2.4M152.8,500.2h2.4M154.0,499.0v2.4M347.5,407.8h2.4M348.7,406.6v2.4M88.3,522.9h2.4M89.5,521.7v2.4M186.5,471.9h2.4M187.7,470.7v2.4M107.4,508.8h2.4M108.6,507.6v2.4M146.0,489.0h2.4M147.2,487.8v2.4M148.3,502.3h2.4M149.5,501.1v2.4M157.4,502.1h2.4M158.6,500.9v2.4M93.3,519.7h2.4M94.5,518.5v2.4M367.9,393.7h2.4M369.1,392.5v2.4M204.3,476.4h2.4M205.5,475.2v2.4M202.3,476.6h2.4M203.5,475.4v2.4M95.2,519.6h2.4M96.4,518.4v2.4M412.0,366.1h2.4M413.2,364.9v2.4M77.1,523.3h2.4M78.3,522.1v2.4M435.5,358.4h2.4M436.7,357.2v2.4M251.2,449.3h2.4M252.4,448.1v2.4M166.0,477.5h2.4M167.2,476.3v2.4M118.9,512.0h2.4M120.1,510.8v2.4M102.0,514.5h2.4M103.2,513.3v2.4M83.7,520.9h2.4M84.9,519.7v2.4M182.2,480.9h2.4M183.4,479.7v2.4M259.5,450.9h2.4M260.7,449.7v2.4M93.2,519.8h2.4M94.4,518.6v2.4M94.2,514.4h2.4M95.4,513.2v2.4M117.0,510.4h2.4M118.2,509.2v2.4M252.6,438.3h2.4M253.8,437.1v2.4M420.1,358.4h2.4M421.3,357.2v2.4M171.9,485.5h2.4M173.1,484.3v2.4M239.9,460.0h2.4M241.1,458.8v2.4M88.9,519.9h2.4M90.1,518.7v2.4M132.9,505.4h2.4M134.1,504.2v2.4M116.5,503.6h2.4M117.7,502.4v2.4M91.9,519.6h2.4M93.1,518.4v2.4M96.7,517.0h2.4M97.9,515.8v2.4M339.6,400.9h2.4M340.8,399.7v2.4M263.6,438.6h2.4M264.8,437.4v2.4M140.8,502.6h2.4M142.0,501.4v2.4M193.0,482.7h2.4M194.2,481.5v2.4M97.8,514.8h2.4M99.0,513.6v2.4M178.1,484.4h2.4M179.3,483.2v2.4M124.2,508.3h2.4M125.4,507.1v2.4M165.3,478.2h2.4M166.5,477.0v2.4M146.3,498.6h2.4M147.5,497.4v2.4M86.4,521.0h2.4M87.6,519.8v2.4M353.4,391.3h2.4M354.6,390.1v2.4M91.3,520.3h2.4M92.5,519.1v2.4M169.6,482.1h2.4M170.8,480.9v2.4M161.4,489.9h2.4M162.6,488.7v2.4M203.9,477.8h2.4M205.1,476.6v2.4M80.9,520.8h2.4M82.1,519.6v2.4M108.8,509.4h2.4M110.0,508.2v2.4M167.9,493.2h2.4M169.1,492.0v2.4M334.5,408.6h2.4M335.7,407.4v2.4M93.2,517.7h2.4M94.4,516.5v2.4M447.8,352.2h2.4M449.0,351.0v2.4M175.3,482.5h2.4M176.5,481.3v2.4M196.6,466.3h2.4M197.8,465.1v2.4M308.2,423.5h2.4M309.4,422.3v2.4M196.4,482.6h2.4M197.6,481.4v2.4M84.2,525.8h2.4M85.4,524.6v2.4M435.6,359.0h2.4M436.8,357.8v2.4M111.4,509.8h2.4M112.6,508.6v2.4M315.7,417.4h2.4M316.9,416.2v2.4M404.4,372.6h2.4M405.6,371.4v2.4M89.1,520.4h2.4M90.3,519.2v2.4M226.8,465.5h2.4M228.0,464.3v2.4M217.0,462.7h2.4M218.2,461.5v2.4M87.9,519.2h2.4M89.1,518.0v2.4M101.0,516.4h2.4M102.2,515.2v2.4M83.1,518.5h2.4M84.3,517.3v2.4M427.5,356.8h2.4M428.7,355.6v2.4M110.0,512.1h2.4M111.2,510.9v2.4M197.2,480.0h2.4M198.4,478.8v2.4M104.0,507.7h2.4M105.2,506.5v2.4M87.1,523.5h2.4M88.3,522.3v2.4M344.1,404.8h2.4M345.3,403.6v2.4M82.2,524.3h2.4M83.4,523.1v2.4M185.1,480.5h2.4M186.3,479.3v2.4M322.0,418.3h2.4M323.2,417.1v2.4M146.2,495.2h2.4M147.4,494.0v2.4M225.8,462.7h2.4M227.0,461.5v2.4M92.5,517.2h2.4M93.7,516.0v2.4M92.8,522.5h2.4M94.0,521.3v2.4M165.2,496.2h2.4M166.4,495.0v2.4M343.3,398.2h2.4M344.5,397.0v2.4M139.6,506.0h2.4M140.8,504.8v2.4M141.7,497.7h2.4M142.9,496.5v2.4M369.7,382.7h2.4M370.9,381.5v2.4M304.8,425.2h2.4M306.0,424.0v2.4M418.5,367.1h2.4M419.7,365.9v2.4M103.6,511.9h2.4M104.8,510.7v2.4M262.8,442.5h2.4M264.0,441.3v2.4M153.9,497.0h2.4M155.1,495.8v2.4M100.9,508.5h2.4M102.1,507.3v2.4M87.8,520.4h2.4M89.0,519.2v2.4M154.8,488.5h2.4M156.0,487.3v2.4M96.4,517.0h2.4M97.6,515.8v2.4M171.4,486.6h2.4M172.6,485.4v2.4M77.2,523.5h2.4M78.4,522.3v2.4M178.5,471.2h2.4M179.7,470.0v2.4M131.4,496.8h2.4M132.6,495.6v2.4M272.3,433.3h2.4M273.5,432.1v2.4M296.6,415.5h2.4M297.8,414.3v2.4M177.1,474.6h2.4M178.3,473.4v2.4M94.1,514.0h2.4M95.3,512.8v2.4M81.6,523.3h2.4M82.8,522.1v2.4M97.3,518.1h2.4M98.5,516.9v2.4M185.9,483.2h2.4M187.1,482.0v2.4M229.6,459.0h2.4M230.8,457.8v2.4M264.3,434.2h2.4M265.5,433.0v2.4M365.1,394.4h2.4M366.3,393.2v2.4M108.5,512.3h2.4M109.7,511.1v2.4M85.8,524.3h2.4M87.0,523.1v2.4M84.8,523.4h2.4M86.0,522.2v2.4M81.1,521.4h2.4M82.3,520.2v2.4M83.1,520.0h2.4M84.3,518.8v2.4M129.2,497.9h2.4M130.4,496.7v2.4M203.2,471.0h2.4M204.4,469.8v2.4M245.1,453.1h2.4M246.3,451.9v2.4M199.8,464.8h2.4M201.0,463.6v2.4M178.0,475.8h2.4M179.2,474.6v2.4M120.7,512.9h2.4M121.9,511.7v2.4M440.4,355.8h2.4M441.6,354.6v2.4M128.8,511.4h2.4M130.0,510.2v2.4M83.1,520.2h2.4M84.3,519.0v2.4M116.3,509.1h2.4M117.5,507.9v2.4M277.1,435.9h2.4M278.3,434.7v2.4M107.6,509.6h2.4M108.8,508.4v2.4M197.5,464.5h2.4M198.7,463.3v2.4M97.2,514.4h2.4M98.4,513.2v2.4M272.7,439.1h2.4M273.9,437.9v2.4M193.0,477.9h2.4M194.2,476.7v2.4M170.2,486.7h2.4M171.4,485.5v2.4M101.4,518.6h2.4M102.6,517.4v2.4M367.7,392.9h2.4M368.9,391.7v2.4M103.8,520.5h2.4M105.0,519.3v2.4M310.3,416.5h2.4M311.5,415.3v2.4M135.2,494.3h2.4M136.4,493.1v2.4M79.9,523.0h2.4M81.1,521.8v2.4M157.7,493.2h2.4M158.9,492.0v2.4M203.3,470.8h2.4M204.5,469.6v2.4M255.1,443.8h2.4M256.3,442.6v2.4M97.2,514.9h2.4M98.4,513.7v2.4M164.7,491.8h2.4M165.9,490.6v2.4M242.5,456.0h2.4M243.7,454.8v2.4M370.2,394.4h2.4M371.4,393.2v2.4M197.9,474.2h2.4M199.1,473.0v2.4M261.1,442.8h2.4M262.3,441.6v2.4M212.7,464.0h2.4M213.9,462.8v2.4M109.1,510.3h2.4M110.3,509.1v2.4M87.3,516.4h2.4M88.5,515.2v2.4M77.8,525.9h2.4M79.0,524.7v2.4M128.1,503.5h2.4M129.3,502.3v2.4M106.9,512.9h2.4M108.1,511.7v2.4M207.4,475.8h2.4M208.6,474.6v2.4M469.1,340.3h2.4M470.3,339.1v2.4M114.9,506.6h2.4M116.1,505.4v2.4M122.7,503.8h2.4M123.9,502.6v2.4M351.0,401.1h2.4M352.2,399.9v2.4M246.9,454.9h2.4M248.1,453.7v2.4M302.8,426.5h2.4M304.0,425.3v2.4M389.0,376.5h2.4M390.2,375.3v2.4M107.3,505.9h2.4M108.5,504.7v2.4M367.2,390.9h2.4M368.4,389.7v2.4M214.0,461.9h2.4M215.2,460.7v2.4M444.2,349.7h2.4M445.4,348.5v2.4M78.5,520.0h2.4M79.7,518.8v2.4M114.9,511.8h2.4M116.1,510.6v2.4M190.6,475.5h2.4M191.8,474.3v2.4M84.8,520.6h2.4M86.0,519.4v2.4M285.6,427.7h2.4M286.8,426.5v2.4M113.0,510.4h2.4M114.2,509.2v2.4M245.2,449.6h2.4M246.4,448.4v2.4M135.5,502.0h2.4M136.7,500.8v2.4M84.6,524.7h2.4M85.8,523.5v2.4M371.1,383.3h2.4M372.3,382.1v2.4M201.6,469.4h2.4M202.8,468.2v2.4M104.5,513.2h2.4M105.7,512.0v2.4M159.3,501.2h2.4M160.5,500.0v2.4M98.8,511.5h2.4M100.0,510.3v2.4M80.6,525.0h2.4M81.8,523.8v2.4M201.5,461.5h2.4M202.7,460.3v2.4M204.2,478.4h2.4M205.4,477.2v2.4M264.0,444.4h2.4M265.2,443.2v2.4M253.9,449.2h2.4M255.1,448.0v2.4M159.5,493.4h2.4M160.7,492.2v2.4M143.6,497.6h2.4M144.8,496.4v2.4M423.7,367.4h2.4M424.9,366.2v2.4M86.7,519.2h2.4M87.9,518.0v2.4M460.7,348.1h2.4M461.9,346.9v2.4M341.9,401.9h2.4M343.1,400.7v2.4M181.8,478.9h2.4M183.0,477.7v2.4M119.2,501.0h2.4M120.4,499.8v2.4M331.4,404.3h2.4M332.6,403.1v2.4M131.2,499.3h2.4M132.4,498.1v2.4M82.1,519.5h2.4M83.3,518.3v2.4M245.5,454.1h2.4M246.7,452.9v2.4M188.3,481.8h2.4M189.5,480.6v2.4M306.4,423.7h2.4M307.6,422.5v2.4M249.1,447.7h2.4M250.3,446.5v2.4M259.3,451.8h2.4M260.5,450.6v2.4M443.7,353.0h2.4M444.9,351.8v2.4M96.1,516.4h2.4M97.3,515.2v2.4M448.6,350.0h2.4M449.8,348.8v2.4M141.9,496.7h2.4M143.1,495.5v2.4M145.3,496.4h2.4M146.5,495.2v2.4M328.1,412.9h2.4M329.3,411.7v2.4M333.4,415.8h2.4M334.6,414.6v2.4M78.8,524.8h2.4M80.0,523.6v2.4M94.2,519.2h2.4M95.4,518.0v2.4M270.9,439.2h2.4M272.1,438.0v2.4M351.5,396.2h2.4M352.7,395.0v2.4M396.1,376.5h2.4M397.3,375.3v2.4M188.3,486.9h2.4M189.5,485.7v2.4M189.2,477.7h2.4M190.4,476.5v2.4M111.4,506.4h2.4M112.6,505.2v2.4M156.1,488.6h2.4M157.3,487.4v2.4M93.7,519.3h2.4M94.9,518.1v2.4M135.6,507.4h2.4M136.8,506.2v2.4M170.9,475.4h2.4M172.1,474.2v2.4M197.2,488.7h2.4M198.4,487.5v2.4M93.5,516.5h2.4M94.7,515.3v2.4M108.9,507.6h2.4M110.1,506.4v2.4M316.5,424.6h2.4M317.7,423.4v2.4M222.6,458.8h2.4M223.8,457.6v2.4M365.5,390.7h2.4M366.7,389.5v2.4M193.8,478.3h2.4M195.0,477.1v2.4M84.4,520.4h2.4M85.6,519.2v2.4M153.4,486.7h2.4M154.6,485.5v2.4M186.2,473.0h2.4M187.4,471.8v2.4M77.7,526.6h2.4M78.9,525.4v2.4M95.7,521.2h2.4M96.9,520.0v2.4M86.1,520.1h2.4M87.3,518.9v2.4M423.5,369.0h2.4M424.7,367.8v2.4M284.9,430.1h2.4M286.1,428.9v2.4M151.1,494.7h2.4M152.3,493.5v2.4M192.3,474.6h2.4M193.5,473.4v2.4M201.0,474.1h2.4M202.2,472.9v2.4M93.7,519.1h2.4M94.9,517.9v2.4M102.3,513.7h2.4M103.5,512.5v2.4M84.4,525.6h2.4M85.6,524.4v2.4M85.8,522.0h2.4M87.0,520.8v2.4M129.1,507.3h2.4M130.3,506.1v2.4M94.3,512.3h2.4M95.5,511.1v2.4M105.2,507.1h2.4M106.4,505.9v2.4M101.6,512.0h2.4M102.8,510.8v2.4M147.1,500.3h2.4M148.3,499.1v2.4M81.9,522.2h2.4M83.1,521.0v2.4M76.1,522.6h2.4M77.3,521.4v2.4M237.4,464.3h2.4M238.6,463.1v2.4M91.4,521.1h2.4M92.6,519.9v2.4M108.5,514.7h2.4M109.7,513.5v2.4M207.7,476.9h2.4M208.9,475.7v2.4M370.6,395.7h2.4M371.8,394.5v2.4M278.7,441.3h2.4M279.9,440.1v2.4M411.0,370.4h2.4M412.2,369.2v2.4M223.6,451.2h2.4M224.8,450.0v2.4M78.4,522.0h2.4M79.6,520.8v2.4M281.9,445.7h2.4M283.1,444.5v2.4M111.1,514.9h2.4M112.3,513.7v2.4M213.1,468.8h2.4M214.3,467.6v2.4M329.1,398.3h2.4M330.3,397.1v2.4M447.3,346.5h2.4M448.5,345.3v2.4M336.0,410.9h2.4M337.2,409.7v2.4M424.1,359.9h2.4M425.3,358.7v2.4M185.9,482.6h2.4M187.1,481.4v2.4M115.5,519.2h2.4M116.7,518.0v2.4M179.5,492.8h2.4M180.7,491.6v2.4M456.1,346.7h2.4M457.3,345.5v2.4M157.4,502.8h2.4M158.6,501.6v2.4M78.6,523.9h2.4M79.8,522.7v2.4M158.6,498.0h2.4M159.8,496.8v2.4M306.6,416.3h2.4M307.8,415.1v2.4M169.8,496.4h2.4M171.0,495.2v2.4M204.1,475.1h2.4M205.3,473.9v2.4M199.8,477.1h2.4M201.0,475.9v2.4M409.1,373.8h2.4M410.3,372.6v2.4M203.4,467.2h2.4M204.6,466.0v2.4M92.5,514.9h2.4M93.7,513.7v2.4M129.0,502.3h2.4M130.2,501.1v2.4M287.9,442.1h2.4M289.1,440.9v2.4M90.5,521.0h2.4M91.7,519.8v2.4M308.9,422.7h2.4M310.1,421.5v2.4M357.7,401.6h2.4M358.9,400.4v2.4M318.0,417.0h2.4M319.2,415.8v2.4M354.9,398.9h2.4M356.1,397.7v2.4M78.8,519.3h2.4M80.0,518.1v2.4M93.3,514.7h2.4M94.5,513.5v2.4M120.7,507.6h2.4M121.9,506.4v2.4M436.8,356.5h2.4M438.0,355.3v2.4M200.5,476.3h2.4M201.7,475.1v2.4M184.4,476.9h2.4M185.6,475.7v2.4M108.6,512.9h2.4M109.8,511.7v2.4M77.7,523.6h2.4M78.9,522.4v2.4M470.9,336.6h2.4M472.1,335.4v2.4M139.1,502.6h2.4M140.3,501.4v2.4M132.9,499.4h2.4M134.1,498.2v2.4M185.7,468.7h2.4M186.9,467.5v2.4M76.5,527.3h2.4M77.7,526.1v2.4M245.6,461.6h2.4M246.8,460.4v2.4M118.2,509.5h2.4M119.4,508.3v2.4M297.3,436.1h2.4M298.5,434.9v2.4M87.7,524.2h2.4M88.9,523.0v2.4M216.5,472.3h2.4M217.7,471.1v2.4M435.2,358.7h2.4M436.4,357.5v2.4M257.4,436.2h2.4M258.6,435.0v2.4M109.5,508.5h2.4M110.7,507.3v2.4M380.7,385.4h2.4M381.9,384.2v2.4M146.5,492.5h2.4M147.7,491.3v2.4M119.8,510.4h2.4M121.0,509.2v2.4M223.5,467.9h2.4M224.7,466.7v2.4M447.1,350.1h2.4M448.3,348.9v2.4M220.0,467.2h2.4M221.2,466.0v2.4M84.1,525.3h2.4M85.3,524.1v2.4M98.8,513.4h2.4M100.0,512.2v2.4M260.6,445.3h2.4M261.8,444.1v2.4M87.8,521.0h2.4M89.0,519.8v2.4M152.7,493.0h2.4M153.9,491.8v2.4M216.3,464.3h2.4M217.5,463.1v2.4M113.3,507.3h2.4M114.5,506.1v2.4M340.3,406.7h2.4M341.5,405.5v2.4M137.4,503.4h2.4M138.6,502.2v2.4M300.5,431.5h2.4M301.7,430.3v2.4M373.5,390.1h2.4M374.7,388.9v2.4M203.2,465.1h2.4M204.4,463.9v2.4M322.5,409.2h2.4M323.7,408.0v2.4M86.5,519.4h2.4M87.7,518.2v2.4M139.1,498.2h2.4M140.3,497.0v2.4M169.8,482.6h2.4M171.0,481.4v2.4M466.3,341.0h2.4M467.5,339.8v2.4M79.9,520.9h2.4M81.1,519.7v2.4M106.9,514.8h2.4M108.1,513.6v2.4M93.0,516.6h2.4M94.2,515.4v2.4M99.8,518.7h2.4M101.0,517.5v2.4M280.4,423.2h2.4M281.6,422.0v2.4M80.2,520.9h2.4M81.4,519.7v2.4M90.3,519.0h2.4M91.5,517.8v2.4M472.9,341.5h2.4M474.1,340.3v2.4M220.5,455.5h2.4M221.7,454.3v2.4M132.1,493.5h2.4M133.3,492.3v2.4M93.3,515.0h2.4M94.5,513.8v2.4M191.4,475.1h2.4M192.6,473.9v2.4M77.2,520.7h2.4M78.4,519.5v2.4M81.2,520.3h2.4M82.4,519.1v2.4M274.8,427.9h2.4M276.0,426.7v2.4M166.5,486.5h2.4M167.7,485.3v2.4M168.8,491.4h2.4M170.0,490.2v2.4M87.5,519.6h2.4M88.7,518.4v2.4M342.9,397.9h2.4M344.1,396.7v2.4M112.4,504.6h2.4M113.6,503.4v2.4M77.9,520.0h2.4M79.1,518.8v2.4M195.3,476.3h2.4M196.5,475.1v2.4M78.8,520.3h2.4M80.0,519.1v2.4M102.7,515.8h2.4M103.9,514.6v2.4M366.4,403.0h2.4M367.6,401.8v2.4M285.9,438.7h2.4M287.1,437.5v2.4M81.9,524.4h2.4M83.1,523.2v2.4M201.0,472.8h2.4M202.2,471.6v2.4M102.1,515.8h2.4M103.3,514.6v2.4M425.6,360.3h2.4M426.8,359.1v2.4M347.5,399.9h2.4M348.7,398.7v2.4M223.0,458.4h2.4M224.2,457.2v2.4M198.0,471.7h2.4M199.2,470.5v2.4M141.1,507.8h2.4M142.3,506.6v2.4M195.0,477.5h2.4M196.2,476.3v2.4M202.2,479.7h2.4M203.4,478.5v2.4M190.5,471.1h2.4M191.7,469.9v2.4M123.0,504.4h2.4M124.2,503.2v2.4M118.2,504.3h2.4M119.4,503.1v2.4M345.3,392.8h2.4M346.5,391.6v2.4M90.3,516.9h2.4M91.5,515.7v2.4M402.0,372.4h2.4M403.2,371.2v2.4M100.1,518.8h2.4M101.3,517.6v2.4M130.8,518.2h2.4M132.0,517.0v2.4M150.8,489.6h2.4M152.0,488.4v2.4M441.3,351.4h2.4M442.5,350.2v2.4M367.6,386.7h2.4M368.8,385.5v2.4M385.3,389.2h2.4M386.5,388.0v2.4M240.8,464.5h2.4M242.0,463.3v2.4M233.9,458.5h2.4M235.1,457.3v2.4M157.7,499.4h2.4M158.9,498.2v2.4M78.2,523.9h2.4M79.4,522.7v2.4M118.3,508.3h2.4M119.5,507.1v2.4M228.3,455.4h2.4M229.5,454.2v2.4M173.0,480.6h2.4M174.2,479.4v2.4M185.2,468.0h2.4M186.4,466.8v2.4M315.8,405.2h2.4M317.0,404.0v2.4M83.5,522.6h2.4M84.7,521.4v2.4M228.8,457.9h2.4M230.0,456.7v2.4M154.4,495.0h2.4M155.6,493.8v2.4M80.8,524.0h2.4M82.0,522.8v2.4M221.3,462.3h2.4M222.5,461.1v2.4M90.3,518.9h2.4M91.5,517.7v2.4M236.5,449.6h2.4M237.7,448.4v2.4M130.5,508.4h2.4M131.7,507.2v2.4M345.2,404.1h2.4M346.4,402.9v2.4M101.4,519.7h2.4M102.6,518.5v2.4M108.1,511.2h2.4M109.3,510.0v2.4M89.6,518.2h2.4M90.8,517.0v2.4M96.2,515.6h2.4M97.4,514.4v2.4M459.6,346.3h2.4M460.8,345.1v2.4M115.8,505.4h2.4M117.0,504.2v2.4M195.9,472.9h2.4M197.1,471.7v2.4M89.2,518.7h2.4M90.4,517.5v2.4M101.8,510.7h2.4M103.0,509.5v2.4M148.0,496.4h2.4M149.2,495.2v2.4M292.1,428.5h2.4M293.3,427.3v2.4M90.0,516.9h2.4M91.2,515.7v2.4M193.4,490.6h2.4M194.6,489.4v2.4M193.3,472.7h2.4M194.5,471.5v2.4M79.6,522.1h2.4M80.8,520.9v2.4M167.2,496.2h2.4M168.4,495.0v2.4M143.6,513.8h2.4M144.8,512.6v2.4M113.1,509.9h2.4M114.3,508.7v2.4M415.9,364.5h2.4M417.1,363.3v2.4M166.0,483.2h2.4M167.2,482.0v2.4M75.8,525.1h2.4M77.0,523.9v2.4M153.5,495.5h2.4M154.7,494.3v2.4M382.4,380.9h2.4M383.6,379.7v2.4M191.5,473.0h2.4M192.7,471.8v2.4M135.6,496.0h2.4M136.8,494.8v2.4M366.6,393.2h2.4M367.8,392.0v2.4M377.5,385.1h2.4M378.7,383.9v2.4M200.9,468.3h2.4M202.1,467.1v2.4M312.7,421.6h2.4M313.9,420.4v2.4M164.8,499.6h2.4M166.0,498.4v2.4M100.3,508.9h2.4M101.5,507.7v2.4M242.1,455.3h2.4M243.3,454.1v2.4M167.0,479.2h2.4M168.2,478.0v2.4M338.6,410.8h2.4M339.8,409.6v2.4M322.6,416.7h2.4M323.8,415.5v2.4M138.2,504.3h2.4M139.4,503.1v2.4M200.3,469.5h2.4M201.5,468.3v2.4M332.8,414.8h2.4M334.0,413.6v2.4M76.1,524.4h2.4M77.3,523.2v2.4M96.9,522.4h2.4M98.1,521.2v2.4M274.3,440.7h2.4M275.5,439.5v2.4M80.0,524.6h2.4M81.2,523.4v2.4M345.0,408.0h2.4M346.2,406.8v2.4M116.0,509.2h2.4M117.2,508.0v2.4M469.6,380.3h2.4M470.8,379.1v2.4M323.5,436.0h2.4M324.7,434.8v2.4M418.5,388.7h2.4M419.7,387.5v2.4M469.3,352.0h2.4M470.5,350.8v2.4M248.8,469.0h2.4M250.0,467.8v2.4M378.8,393.0h2.4M380.0,391.8v2.4" stroke="#9a9a9a" stroke-width="0.8" stroke-opacity="0.8" fill="none"/>
</g>
<path d="M77.1,508.5V527.6M73.5,515.9H80.69999999999999M81.3,510.8V519.3M77.7,514.6H84.89999999999999M86,501.5V504.3M82.4,502.8H89.6M93.6,497.1V514.9M92,508.5H95.2M97.2,503V510M95,506.2H99.5M105.4,489.5V504.1M103.1,498.4H107.6M113,496.5V504.1M110.1,500.3H115.8M116.7,490.8V499.6M113.10000000000001,494.8H120.3M119.1,486.3V496.5M116.5,491.4H122.2M125.7,475.5V481.9M122.8,479.1H131.7M128.5,461.3V493.3M126,478.1H131M128.5,476.7V485.7M126,481.2H131M129.5,488V495M125.9,491.4H133.1M131.4,482V493M129,488H134M133,487V494M129.4,490.8H136.6M135.9,482V494.5M132.3,488.9H139.5M137.7,483V496M134.1,488.9H141.29999999999998M141.9,480.6V490.8M138.7,486.3H145M147.3,470.5V487M145,478.1H149.5M147.3,478.9V487.9M144.8,483.4H150.1M152.4,450.2V484.4M150.7,471.1H154.5M153.3,472.3V481.3M149.70000000000002,476.8H156.9M156.7,476V483.1M153.1,479.1H160.29999999999998M162.7,449.2V468.8M160.8,460H166.5M165,455.5V464.5M161.4,460H168.6M162.7,462.4V471.4M159.1,466.9H166.29999999999998M165.5,464.3V473.3M161.9,468.8H169.1M165.2,470.0V479.0M161.6,474.5H168.79999999999998M170.6,439V479M167.8,458.9H173.5M174.7,451.7V476.4M171.1,464.8H178.29999999999998M177.3,460V473.3M173.70000000000002,465.7H180.9M177.3,464.3V473.3M173.70000000000002,468.8H180.9M180.5,463.7V472.7M176.9,468.2H184.1M184.5,453V471.4M180.9,461.9H188.1M187.4,456.1V472.6M183.6,463.8H191.9M192.1,424.2V442.8M188,433.3H196.3M198,443.5V468.8M193.8,458H202M209.3,386.3V423.1M205.2,404.7H213.5M211.3,423.1V461.2M206.5,435.6H216M213.5,432V451M209.6,440.9H216M210.9,448.5V457.5M206.5,453H216M215,446.6V455.6M211.4,451.1H218.6M219.2,435.8V461.2M214.7,449.5H223.6M222.6,432.0V441.0M218.5,436.5H226.1M225.5,442V451M221.9,446H229.1M232.7,412.4V433.3M228.7,419.3H237.6M232.5,423V448.5M228,431.4H236.3M232.5,432.6V441.6M228.9,437.1H236.1M234.8,435.1V444.1M231.20000000000002,439.6H238.4M238.8,413.2V422.2M236.5,417.7H241M246.7,398.4V432M243.3,414.5H250.3M248.4,411V437M244.8,422.5H252.0M253.3,411.7V440.3M248.9,429.5H257.8M251.7,429.7V438.7M248.1,434.2H255.29999999999998M260.3,424.3V433.3M256.5,428.8H264.7M263.1,410.4V436.4M259.5,423.8H266.70000000000005M263.5,423.1V432.1M259.9,427.6H267.1M265.8,413V428.8M262.2,422.5H269.40000000000003M269.2,414.2V431.4M266,420.6H273M269.2,418.6V427.6M265.59999999999997,423.1H272.8M287.2,402.2V421.2M283.1,409.2H292M289.2,397.1V422.5M285.59999999999997,411.7H292.8M292,392V422.5M288.4,407.9H295.6M294.8,399V410.4M291.4,403.2H298.4M302.8,391.4V421.2M299,406.2H307.3M317.4,387V406M313.6,396.2H321.2M317.4,395.8V404.8M313.79999999999995,400.3H321.0M324.8,381.2V408.5M320,393.3H328.8M328.2,374.3V404.7M324.59999999999997,392.7H331.8M327.8,390.1V399.1M324.2,394.6H331.40000000000003M328.6,348.2V371.7M325,360.3H331.4M335.2,360.3V380.6M330.7,370.2H340.3M332.6,372.4V408.5M329.0,390.8H336.20000000000005M337.1,385.0V394.0M333.5,389.5H340.70000000000005M338.7,347.6V395.8M335.09999999999997,384.4H342.3M339.9,346.6V396.1M337,371.4H343.3M339.5,380.0V389.0M336.3,384.5H342.7M336.6,384.7V393.7M333.0,389.2H340.20000000000005M355.6,346.6V381M351,363.4H359.8M357.3,370.7V379.7M354.1,375.2H360.5M356,378.3V387.3M352.2,382.8H359.8M373.8,372V375.8M370,373.9H378.9M379.5,351V366M376.3,359.3H382M384.3,353V371.4M382,362.8H387M388.6,352.4V370.1M385.8,361.2H392.2M394.7,357.4V371.4M391,364.4H399.2M397.5,358.7V367.6M393.9,363.1H401.1M399.8,337.8V361.9M396,349.8H403.6M419.5,339.7V357M416.3,347.9H423.9M422.4,342.8V353.6M418.79999999999995,348.6H426.0M433.4,332.6V339.4M431.1,336H435.7" stroke="#ea5390" stroke-width="1.15" stroke-opacity="0.68" fill="none"/>
<rect x="76.1" y="514.9" width="2" height="2" fill="#9a3fc8"/><rect x="80.3" y="513.6" width="2" height="2" fill="#9a3fc8"/><rect x="85.0" y="501.8" width="2" height="2" fill="#9a3fc8"/><rect x="92.6" y="507.5" width="2" height="2" fill="#9a3fc8"/><rect x="96.2" y="505.2" width="2" height="2" fill="#9a3fc8"/><rect x="104.4" y="497.4" width="2" height="2" fill="#9a3fc8"/><rect x="112.0" y="499.3" width="2" height="2" fill="#9a3fc8"/><rect x="115.7" y="493.8" width="2" height="2" fill="#9a3fc8"/><rect x="118.1" y="490.4" width="2" height="2" fill="#9a3fc8"/><rect x="124.7" y="478.1" width="2" height="2" fill="#b0248f"/><rect x="127.5" y="477.1" width="2" height="2" fill="#b0248f"/><rect x="127.5" y="480.2" width="2" height="2" fill="#b0248f"/><rect x="128.5" y="490.4" width="2" height="2" fill="#9a3fc8"/><rect x="130.4" y="487.0" width="2" height="2" fill="#b0248f"/><rect x="132.0" y="489.8" width="2" height="2" fill="#b0248f"/><rect x="134.9" y="487.9" width="2" height="2" fill="#b0248f"/><rect x="136.7" y="487.9" width="2" height="2" fill="#9a3fc8"/><rect x="140.9" y="485.3" width="2" height="2" fill="#b0248f"/><rect x="146.3" y="477.1" width="2" height="2" fill="#b0248f"/><rect x="146.3" y="482.4" width="2" height="2" fill="#b0248f"/><rect x="151.4" y="470.1" width="2" height="2" fill="#9a3fc8"/><rect x="152.3" y="475.8" width="2" height="2" fill="#b0248f"/><rect x="155.7" y="478.1" width="2" height="2" fill="#b0248f"/><rect x="161.7" y="459.0" width="2" height="2" fill="#b0248f"/><rect x="164.0" y="459.0" width="2" height="2" fill="#9a3fc8"/><rect x="161.7" y="465.9" width="2" height="2" fill="#b0248f"/><rect x="164.5" y="467.8" width="2" height="2" fill="#b0248f"/><rect x="164.2" y="473.5" width="2" height="2" fill="#b0248f"/><rect x="169.6" y="457.9" width="2" height="2" fill="#9a3fc8"/><rect x="173.7" y="463.8" width="2" height="2" fill="#b0248f"/><rect x="176.3" y="464.7" width="2" height="2" fill="#b0248f"/><rect x="176.3" y="467.8" width="2" height="2" fill="#b0248f"/><rect x="179.5" y="467.2" width="2" height="2" fill="#9a3fc8"/><rect x="183.5" y="460.9" width="2" height="2" fill="#b0248f"/><rect x="186.4" y="462.8" width="2" height="2" fill="#b0248f"/><rect x="191.1" y="432.3" width="2" height="2" fill="#b0248f"/><rect x="197.0" y="457.0" width="2" height="2" fill="#9a3fc8"/><rect x="208.3" y="403.7" width="2" height="2" fill="#b0248f"/><rect x="210.3" y="434.6" width="2" height="2" fill="#b0248f"/><rect x="212.5" y="439.9" width="2" height="2" fill="#b0248f"/><rect x="209.9" y="452.0" width="2" height="2" fill="#9a3fc8"/><rect x="214.0" y="450.1" width="2" height="2" fill="#b0248f"/><rect x="218.2" y="448.5" width="2" height="2" fill="#b0248f"/><rect x="221.6" y="435.5" width="2" height="2" fill="#b0248f"/><rect x="224.5" y="445.0" width="2" height="2" fill="#9a3fc8"/><rect x="231.7" y="418.3" width="2" height="2" fill="#b0248f"/><rect x="231.5" y="430.4" width="2" height="2" fill="#b0248f"/><rect x="231.5" y="436.1" width="2" height="2" fill="#b0248f"/><rect x="233.8" y="438.6" width="2" height="2" fill="#9a3fc8"/><rect x="237.8" y="416.7" width="2" height="2" fill="#b0248f"/><rect x="245.7" y="413.5" width="2" height="2" fill="#b0248f"/><rect x="247.4" y="421.5" width="2" height="2" fill="#b0248f"/><rect x="252.3" y="428.5" width="2" height="2" fill="#9a3fc8"/><rect x="250.7" y="433.2" width="2" height="2" fill="#b0248f"/><rect x="259.3" y="427.8" width="2" height="2" fill="#b0248f"/><rect x="262.1" y="422.8" width="2" height="2" fill="#b0248f"/><rect x="262.5" y="426.6" width="2" height="2" fill="#9a3fc8"/><rect x="264.8" y="421.5" width="2" height="2" fill="#b0248f"/><rect x="268.2" y="419.6" width="2" height="2" fill="#b0248f"/><rect x="268.2" y="422.1" width="2" height="2" fill="#b0248f"/><rect x="286.2" y="408.2" width="2" height="2" fill="#9a3fc8"/><rect x="288.2" y="410.7" width="2" height="2" fill="#b0248f"/><rect x="291.0" y="406.9" width="2" height="2" fill="#b0248f"/><rect x="293.8" y="402.2" width="2" height="2" fill="#b0248f"/><rect x="301.8" y="405.2" width="2" height="2" fill="#9a3fc8"/><rect x="316.4" y="395.2" width="2" height="2" fill="#b0248f"/><rect x="316.4" y="399.3" width="2" height="2" fill="#b0248f"/><rect x="323.8" y="392.3" width="2" height="2" fill="#b0248f"/><rect x="327.2" y="391.7" width="2" height="2" fill="#9a3fc8"/><rect x="326.8" y="393.6" width="2" height="2" fill="#b0248f"/><rect x="327.6" y="359.3" width="2" height="2" fill="#b0248f"/><rect x="334.2" y="369.2" width="2" height="2" fill="#b0248f"/><rect x="331.6" y="389.8" width="2" height="2" fill="#9a3fc8"/><rect x="336.1" y="388.5" width="2" height="2" fill="#b0248f"/><rect x="337.7" y="383.4" width="2" height="2" fill="#b0248f"/><rect x="338.9" y="370.4" width="2" height="2" fill="#b0248f"/><rect x="338.5" y="383.5" width="2" height="2" fill="#9a3fc8"/><rect x="335.6" y="388.2" width="2" height="2" fill="#b0248f"/><rect x="354.6" y="362.4" width="2" height="2" fill="#b0248f"/><rect x="356.3" y="374.2" width="2" height="2" fill="#b0248f"/><rect x="355.0" y="381.8" width="2" height="2" fill="#9a3fc8"/><rect x="372.8" y="372.9" width="2" height="2" fill="#b0248f"/><rect x="378.5" y="358.3" width="2" height="2" fill="#b0248f"/><rect x="383.3" y="361.8" width="2" height="2" fill="#b0248f"/><rect x="387.6" y="360.2" width="2" height="2" fill="#9a3fc8"/><rect x="393.7" y="363.4" width="2" height="2" fill="#b0248f"/><rect x="396.5" y="362.1" width="2" height="2" fill="#b0248f"/><rect x="398.8" y="348.8" width="2" height="2" fill="#b0248f"/><rect x="418.5" y="346.9" width="2" height="2" fill="#9a3fc8"/><rect x="421.4" y="347.6" width="2" height="2" fill="#b0248f"/><rect x="432.4" y="335.0" width="2" height="2" fill="#b0248f"/>
<line x1="56.6" y1="537.3" x2="502.6" y2="321.6" stroke="#111" stroke-width="1.3"/>
<rect x="379.4" y="332.4" width="100.9" height="48.6" fill="none" stroke="#333" stroke-width="1.2" stroke-dasharray="3.6 2.4"/>
<line x1="480.3" y1="332.5" x2="524.1" y2="309.9" stroke="#333" stroke-width="1.1" stroke-dasharray="3.6 2.6"/>
<line x1="480.3" y1="381" x2="524.1" y2="540.3" stroke="#333" stroke-width="1.1" stroke-dasharray="3.6 2.6"/>
<path d="M56.6,323.1 V537.1 H500.9" fill="none" stroke="#333" stroke-width="1.1"/>
<line x1="53.8" y1="332.3" x2="56.6" y2="332.3" stroke="#333" stroke-width="0.9"/>
<text x="53.6" y="336.3" font-size="10.6" fill="#4d4d4d" font-weight="normal" text-anchor="end" font-style="normal" >1.00</text>
<line x1="480.3" y1="537.1" x2="480.3" y2="539.9" stroke="#333" stroke-width="0.9"/>
<text x="483.2" y="547.8" font-size="10.6" fill="#4d4d4d" font-weight="normal" text-anchor="middle" font-style="normal" >1.00</text>
<line x1="53.8" y1="381.1" x2="56.6" y2="381.1" stroke="#333" stroke-width="0.9"/>
<text x="53.6" y="385.1" font-size="10.6" fill="#4d4d4d" font-weight="normal" text-anchor="end" font-style="normal" >0.75</text>
<line x1="379.4" y1="537.1" x2="379.4" y2="539.9" stroke="#333" stroke-width="0.9"/>
<text x="382.3" y="547.8" font-size="10.6" fill="#4d4d4d" font-weight="normal" text-anchor="middle" font-style="normal" >0.75</text>
<line x1="53.8" y1="429.9" x2="56.6" y2="429.9" stroke="#333" stroke-width="0.9"/>
<text x="53.6" y="433.9" font-size="10.6" fill="#4d4d4d" font-weight="normal" text-anchor="end" font-style="normal" >0.50</text>
<line x1="278.6" y1="537.1" x2="278.6" y2="539.9" stroke="#333" stroke-width="0.9"/>
<text x="281.5" y="547.8" font-size="10.6" fill="#4d4d4d" font-weight="normal" text-anchor="middle" font-style="normal" >0.50</text>
<line x1="53.8" y1="478.7" x2="56.6" y2="478.7" stroke="#333" stroke-width="0.9"/>
<text x="53.6" y="482.7" font-size="10.6" fill="#4d4d4d" font-weight="normal" text-anchor="end" font-style="normal" >0.25</text>
<line x1="177.8" y1="537.1" x2="177.8" y2="539.9" stroke="#333" stroke-width="0.9"/>
<text x="180.7" y="547.8" font-size="10.6" fill="#4d4d4d" font-weight="normal" text-anchor="middle" font-style="normal" >0.25</text>
<line x1="53.8" y1="527.5" x2="56.6" y2="527.5" stroke="#333" stroke-width="0.9"/>
<text x="53.6" y="531.5" font-size="10.6" fill="#4d4d4d" font-weight="normal" text-anchor="end" font-style="normal" >0.00</text>
<line x1="76.9" y1="537.1" x2="76.9" y2="539.9" stroke="#333" stroke-width="0.9"/>
<text x="79.8" y="547.8" font-size="10.6" fill="#4d4d4d" font-weight="normal" text-anchor="middle" font-style="normal" >0.00</text>
<text x="289.7" y="563.8" font-size="13.5" fill="#000" font-weight="normal" text-anchor="middle" font-style="normal" >Mean percent-positive (control)</text>
<text x="0" y="0" font-size="13.5" fill="#000" text-anchor="middle" transform="translate(27.3,425.4) rotate(-90)">Mean percent-positive (targeted)</text>
<path d="M555,467V527.2M550.2,503.8H559.7M555,480V500M552,486.4H558.8M564.5,473.9V499.7M560.3,486.4H568.6M566.9,459.3V499.7M562.2,479.4H571.7M574.9,443.5V494.2M570.2,468.6H580M580,458.1V494.6M574.3,476.2H586M595.6,457.4V474.8M588.9,466.3H602.8M607.6,442.2V476.5M602.6,459.5H613M616.4,443.5V466.3M612.5,454.5H620.5M621.9,436.5V473.9M616.1,455.2H626.3M637.8,415V435.1M634.2,425.2H641.3M678.1,400.3V417.4M674.2,409.2H681.8M692.5,365.3V396.4M688.9,381.3H696M729.1,344.5V367.1M726.2,355.5H731.6M746.1,330.7V364.8M743.5,347.5H748.3" stroke="#e8588f" stroke-width="1.1" stroke-opacity="0.75" fill="none"/>
<path d="M553.8,467h2.4M553.8,527.2h2.4M553.8,480h2.4M553.8,500h2.4M563.3,473.9h2.4M563.3,499.7h2.4M565.6999999999999,459.3h2.4M565.6999999999999,499.7h2.4M573.6999999999999,443.5h2.4M573.6999999999999,494.2h2.4M578.8,458.1h2.4M578.8,494.6h2.4M594.4,457.4h2.4M594.4,474.8h2.4M606.4,442.2h2.4M606.4,476.5h2.4M615.1999999999999,443.5h2.4M615.1999999999999,466.3h2.4M620.6999999999999,436.5h2.4M620.6999999999999,473.9h2.4M636.5999999999999,415h2.4M636.5999999999999,435.1h2.4M676.9,400.3h2.4M676.9,417.4h2.4M691.3,365.3h2.4M691.3,396.4h2.4M727.9,344.5h2.4M727.9,367.1h2.4M744.9,330.7h2.4M744.9,364.8h2.4" stroke="#e04d87" stroke-width="1" fill="none"/>
<circle cx="555" cy="503.8" r="1.1" fill="#d43a78"/>
<circle cx="555" cy="486.4" r="1.1" fill="#d43a78"/>
<circle cx="564.5" cy="486.4" r="1.1" fill="#d43a78"/>
<circle cx="566.9" cy="479.4" r="1.1" fill="#d43a78"/>
<circle cx="574.9" cy="468.6" r="1.1" fill="#d43a78"/>
<circle cx="580" cy="476.2" r="1.1" fill="#d43a78"/>
<circle cx="595.6" cy="466.3" r="1.1" fill="#d43a78"/>
<circle cx="607.6" cy="459.5" r="1.1" fill="#d43a78"/>
<circle cx="616.4" cy="454.5" r="1.1" fill="#d43a78"/>
<circle cx="621.9" cy="455.2" r="1.1" fill="#d43a78"/>
<circle cx="637.8" cy="425.2" r="1.1" fill="#d43a78"/>
<circle cx="678.1" cy="409.2" r="1.1" fill="#d43a78"/>
<circle cx="692.5" cy="381.3" r="1.1" fill="#d43a78"/>
<circle cx="729.1" cy="355.5" r="1.1" fill="#d43a78"/>
<circle cx="746.1" cy="347.5" r="1.1" fill="#d43a78"/>
<line x1="540.6" y1="537.4" x2="760" y2="366.8" stroke="#333" stroke-width="1.2" stroke-dasharray="3.6 2.6"/>
<path d="M540.5,320.9 V537.4 H758.2" fill="none" stroke="#333" stroke-width="1.1"/>
<line x1="537.2" y1="511.4" x2="540.5" y2="511.4" stroke="#333" stroke-width="0.9"/>
<text x="534.6" y="515.5" font-size="10.6" fill="#4d4d4d" font-weight="normal" text-anchor="end" font-style="normal" >4</text>
<line x1="566.6" y1="537.4" x2="566.6" y2="540.5" stroke="#333" stroke-width="0.9"/>
<text x="566.6" y="549.9" font-size="10.6" fill="#4d4d4d" font-weight="normal" text-anchor="middle" font-style="normal" >4</text>
<line x1="537.2" y1="441.1" x2="540.5" y2="441.1" stroke="#333" stroke-width="0.9"/>
<text x="534.6" y="445.2" font-size="10.6" fill="#4d4d4d" font-weight="normal" text-anchor="end" font-style="normal" >5</text>
<line x1="661.0" y1="537.4" x2="661.0" y2="540.5" stroke="#333" stroke-width="0.9"/>
<text x="661" y="549.9" font-size="10.6" fill="#4d4d4d" font-weight="normal" text-anchor="middle" font-style="normal" >5</text>
<line x1="537.2" y1="370.8" x2="540.5" y2="370.8" stroke="#333" stroke-width="0.9"/>
<text x="534.6" y="374.9" font-size="10.6" fill="#4d4d4d" font-weight="normal" text-anchor="end" font-style="normal" >6</text>
<line x1="755.4" y1="537.4" x2="755.4" y2="540.5" stroke="#333" stroke-width="0.9"/>
<text x="755.4" y="549.9" font-size="10.6" fill="#4d4d4d" font-weight="normal" text-anchor="middle" font-style="normal" >6</text>
<text x="661.7" y="564" font-size="13.5" fill="#000" font-weight="normal" text-anchor="middle" font-style="normal" >Mean expression (control)</text>
<text x="0" y="0" font-size="13.6" fill="#000" text-anchor="middle" transform="translate(522.8,415.7) rotate(-90)">Mean expression (targeted)</text>
<text x="177.7" y="636" font-size="13.5" fill="#111" font-weight="normal" text-anchor="middle" font-style="normal" >paralog-CRISPR target pairs = 1,792</text>
<circle cx="177" cy="805.3" r="163.3" fill="none" stroke="#2a2a2a" stroke-width="1"/>
<circle cx="172.5" cy="805.3" r="46.5" fill="none" stroke="#2a2a2a" stroke-width="1"/>
<circle cx="191.2" cy="805.3" r="46.8" fill="none" stroke="#2a2a2a" stroke-width="1"/>
<text x="125.6" y="757.1" font-size="13.5" fill="#111" font-weight="normal" text-anchor="middle" font-style="normal" >top-100 mean</text>
<text x="251.3" y="757.1" font-size="13.5" fill="#111" font-weight="normal" text-anchor="middle" font-style="normal" >top-100 percent +</text>
<text x="134.8" y="808.4" font-size="13.5" fill="#111" font-weight="normal" text-anchor="middle" font-style="normal" >15</text>
<text x="179.3" y="808.4" font-size="13.5" fill="#111" font-weight="normal" text-anchor="middle" font-style="normal" >85</text>
<text x="228.5" y="808.4" font-size="13.5" fill="#111" font-weight="normal" text-anchor="middle" font-style="normal" >15</text>
<text x="174.3" y="907" font-size="13.5" fill="#111" font-weight="normal" text-anchor="middle" font-style="normal" >non-top-100 = 1,677</text>
<line x1="374.2" y1="638" x2="784.4" y2="638" stroke="#000" stroke-width="2"/>
<line x1="374.2" y1="667.3" x2="784.4" y2="667.3" stroke="#000" stroke-width="1"/>
<line x1="374.2" y1="939.2" x2="784.4" y2="939.2" stroke="#000" stroke-width="2"/>
<text x="379.6" y="658" font-size="11.9" fill="#000" font-weight="normal" text-anchor="start" font-style="normal" >CRISPR target</text>
<text x="512" y="650.8" font-size="11.9" fill="#000" font-weight="normal" text-anchor="middle" font-style="normal" ># paralogs in</text>
<text x="512" y="664.6" font-size="11.9" fill="#000" font-weight="normal" text-anchor="middle" font-style="normal" >top-100</text>
<text x="614.3" y="650.7" font-size="11.9" fill="#000" font-weight="normal" text-anchor="middle" font-style="normal" ># annotated</text>
<text x="614.3" y="663.6" font-size="11.9" fill="#000" font-weight="normal" text-anchor="middle" font-style="normal" >paralogs</text>
<text x="726.8" y="650.7" font-size="11.9" fill="#000" font-weight="normal" text-anchor="middle" font-style="normal" >Fraction of</text>
<text x="726.8" y="663.6" font-size="11.9" fill="#000" font-weight="normal" text-anchor="middle" font-style="normal" >paralogs in top-100</text>
<text x="380.2" y="680.6" font-size="11.9" fill="#000" font-weight="normal" text-anchor="start" font-style="italic" >TMED10</text>
<text x="512" y="680.6" font-size="11.9" fill="#000" font-weight="normal" text-anchor="middle" font-style="normal" >5</text>
<text x="614.3" y="680.6" font-size="11.9" fill="#000" font-weight="normal" text-anchor="middle" font-style="normal" >9</text>
<text x="726.8" y="680.6" font-size="11.9" fill="#000" font-weight="normal" text-anchor="middle" font-style="normal" >0.56</text>
<text x="380.2" y="695.6" font-size="11.9" fill="#000" font-weight="normal" text-anchor="start" font-style="italic" >ILF2</text>
<text x="512" y="695.6" font-size="11.9" fill="#000" font-weight="normal" text-anchor="middle" font-style="normal" >5</text>
<text x="614.3" y="695.6" font-size="11.9" fill="#000" font-weight="normal" text-anchor="middle" font-style="normal" >13</text>
<text x="726.8" y="695.6" font-size="11.9" fill="#000" font-weight="normal" text-anchor="middle" font-style="normal" >0.39</text>
<text x="380.2" y="710.5" font-size="11.9" fill="#000" font-weight="normal" text-anchor="start" font-style="italic" >CDK6</text>
<text x="512" y="710.5" font-size="11.9" fill="#000" font-weight="normal" text-anchor="middle" font-style="normal" >8</text>
<text x="614.3" y="710.5" font-size="11.9" fill="#000" font-weight="normal" text-anchor="middle" font-style="normal" >26</text>
<text x="726.8" y="710.5" font-size="11.9" fill="#000" font-weight="normal" text-anchor="middle" font-style="normal" >0.31</text>
<text x="380.2" y="725.5" font-size="11.9" fill="#000" font-weight="normal" text-anchor="start" font-style="italic" >PABPC1</text>
<text x="512" y="725.5" font-size="11.9" fill="#000" font-weight="normal" text-anchor="middle" font-style="normal" >6</text>
<text x="614.3" y="725.5" font-size="11.9" fill="#000" font-weight="normal" text-anchor="middle" font-style="normal" >21</text>
<text x="726.8" y="725.5" font-size="11.9" fill="#000" font-weight="normal" text-anchor="middle" font-style="normal" >0.29</text>
<text x="380.2" y="740.5" font-size="11.9" fill="#000" font-weight="normal" text-anchor="start" font-style="italic" >NONO</text>
<text x="512" y="740.5" font-size="11.9" fill="#000" font-weight="normal" text-anchor="middle" font-style="normal" >2</text>
<text x="614.3" y="740.5" font-size="11.9" fill="#000" font-weight="normal" text-anchor="middle" font-style="normal" >7</text>
<text x="726.8" y="740.5" font-size="11.9" fill="#000" font-weight="normal" text-anchor="middle" font-style="normal" >0.29</text>
<text x="380.2" y="755.5" font-size="11.9" fill="#000" font-weight="normal" text-anchor="start" font-style="italic" >SMAD4</text>
<text x="512" y="755.5" font-size="11.9" fill="#000" font-weight="normal" text-anchor="middle" font-style="normal" >2</text>
<text x="614.3" y="755.5" font-size="11.9" fill="#000" font-weight="normal" text-anchor="middle" font-style="normal" >7</text>
<text x="726.8" y="755.5" font-size="11.9" fill="#000" font-weight="normal" text-anchor="middle" font-style="normal" >0.29</text>
<text x="380.2" y="770.4" font-size="11.9" fill="#000" font-weight="normal" text-anchor="start" font-style="italic" >IRF4</text>
<text x="512" y="770.4" font-size="11.9" fill="#000" font-weight="normal" text-anchor="middle" font-style="normal" >2</text>
<text x="614.3" y="770.4" font-size="11.9" fill="#000" font-weight="normal" text-anchor="middle" font-style="normal" >8</text>
<text x="726.8" y="770.4" font-size="11.9" fill="#000" font-weight="normal" text-anchor="middle" font-style="normal" >0.25</text>
<text x="380.2" y="785.4" font-size="11.9" fill="#000" font-weight="normal" text-anchor="start" font-style="italic" >FRZB</text>
<text x="512" y="785.4" font-size="11.9" fill="#000" font-weight="normal" text-anchor="middle" font-style="normal" >3</text>
<text x="614.3" y="785.4" font-size="11.9" fill="#000" font-weight="normal" text-anchor="middle" font-style="normal" >14</text>
<text x="726.8" y="785.4" font-size="11.9" fill="#000" font-weight="normal" text-anchor="middle" font-style="normal" >0.21</text>
<text x="380.2" y="800.4" font-size="11.9" fill="#000" font-weight="normal" text-anchor="start" font-style="italic" >EIF4A1</text>
<text x="512" y="800.4" font-size="11.9" fill="#000" font-weight="normal" text-anchor="middle" font-style="normal" >7</text>
<text x="614.3" y="800.4" font-size="11.9" fill="#000" font-weight="normal" text-anchor="middle" font-style="normal" >36</text>
<text x="726.8" y="800.4" font-size="11.9" fill="#000" font-weight="normal" text-anchor="middle" font-style="normal" >0.19</text>
<text x="380.2" y="815.3" font-size="11.9" fill="#000" font-weight="normal" text-anchor="start" font-style="italic" >PPIA</text>
<text x="512" y="815.3" font-size="11.9" fill="#000" font-weight="normal" text-anchor="middle" font-style="normal" >3</text>
<text x="614.3" y="815.3" font-size="11.9" fill="#000" font-weight="normal" text-anchor="middle" font-style="normal" >16</text>
<text x="726.8" y="815.3" font-size="11.9" fill="#000" font-weight="normal" text-anchor="middle" font-style="normal" >0.19</text>
<text x="380.2" y="830.3" font-size="11.9" fill="#000" font-weight="normal" text-anchor="start" font-style="italic" >RAB27A</text>
<text x="512" y="830.3" font-size="11.9" fill="#000" font-weight="normal" text-anchor="middle" font-style="normal" >11</text>
<text x="614.3" y="830.3" font-size="11.9" fill="#000" font-weight="normal" text-anchor="middle" font-style="normal" >66</text>
<text x="726.8" y="830.3" font-size="11.9" fill="#000" font-weight="normal" text-anchor="middle" font-style="normal" >0.17</text>
<text x="380.2" y="845.3" font-size="11.9" fill="#000" font-weight="normal" text-anchor="start" font-style="italic" >DDX39A</text>
<text x="512" y="845.3" font-size="11.9" fill="#000" font-weight="normal" text-anchor="middle" font-style="normal" >6</text>
<text x="614.3" y="845.3" font-size="11.9" fill="#000" font-weight="normal" text-anchor="middle" font-style="normal" >36</text>
<text x="726.8" y="845.3" font-size="11.9" fill="#000" font-weight="normal" text-anchor="middle" font-style="normal" >0.17</text>
<text x="380.2" y="860.2" font-size="11.9" fill="#000" font-weight="normal" text-anchor="start" font-style="italic" >DDX17</text>
<text x="512" y="860.2" font-size="11.9" fill="#000" font-weight="normal" text-anchor="middle" font-style="normal" >5</text>
<text x="614.3" y="860.2" font-size="11.9" fill="#000" font-weight="normal" text-anchor="middle" font-style="normal" >36</text>
<text x="726.8" y="860.2" font-size="11.9" fill="#000" font-weight="normal" text-anchor="middle" font-style="normal" >0.14</text>
<text x="380.2" y="875.2" font-size="11.9" fill="#000" font-weight="normal" text-anchor="start" font-style="italic" >CCND1</text>
<text x="512" y="875.2" font-size="11.9" fill="#000" font-weight="normal" text-anchor="middle" font-style="normal" >2</text>
<text x="614.3" y="875.2" font-size="11.9" fill="#000" font-weight="normal" text-anchor="middle" font-style="normal" >17</text>
<text x="726.8" y="875.2" font-size="11.9" fill="#000" font-weight="normal" text-anchor="middle" font-style="normal" >0.19</text>
<text x="380.2" y="890.2" font-size="11.9" fill="#000" font-weight="normal" text-anchor="start" font-style="italic" >HLA-C</text>
<text x="512" y="890.2" font-size="11.9" fill="#000" font-weight="normal" text-anchor="middle" font-style="normal" >2</text>
<text x="614.3" y="890.2" font-size="11.9" fill="#000" font-weight="normal" text-anchor="middle" font-style="normal" >17</text>
<text x="726.8" y="890.2" font-size="11.9" fill="#000" font-weight="normal" text-anchor="middle" font-style="normal" >0.19</text>
<text x="380.2" y="905.2" font-size="11.9" fill="#000" font-weight="normal" text-anchor="start" font-style="italic" >HLA-F</text>
<text x="512" y="905.2" font-size="11.9" fill="#000" font-weight="normal" text-anchor="middle" font-style="normal" >2</text>
<text x="614.3" y="905.2" font-size="11.9" fill="#000" font-weight="normal" text-anchor="middle" font-style="normal" >17</text>
<text x="726.8" y="905.2" font-size="11.9" fill="#000" font-weight="normal" text-anchor="middle" font-style="normal" >0.19</text>
<text x="380.2" y="920.1" font-size="11.9" fill="#000" font-weight="normal" text-anchor="start" font-style="italic" >SERPINE2</text>
<text x="512" y="920.1" font-size="11.9" fill="#000" font-weight="normal" text-anchor="middle" font-style="normal" >3</text>
<text x="614.3" y="920.1" font-size="11.9" fill="#000" font-weight="normal" text-anchor="middle" font-style="normal" >27</text>
<text x="726.8" y="920.1" font-size="11.9" fill="#000" font-weight="normal" text-anchor="middle" font-style="normal" >0.11</text>
<text x="380.2" y="935.1" font-size="11.9" fill="#000" font-weight="normal" text-anchor="start" font-style="italic" >FKBP4</text>
<text x="512" y="935.1" font-size="11.9" fill="#000" font-weight="normal" text-anchor="middle" font-style="normal" >2</text>
<text x="614.3" y="935.1" font-size="11.9" fill="#000" font-weight="normal" text-anchor="middle" font-style="normal" >18</text>
<text x="726.8" y="935.1" font-size="11.9" fill="#000" font-weight="normal" text-anchor="middle" font-style="normal" >0.11</text>
</svg>
</body></html>
